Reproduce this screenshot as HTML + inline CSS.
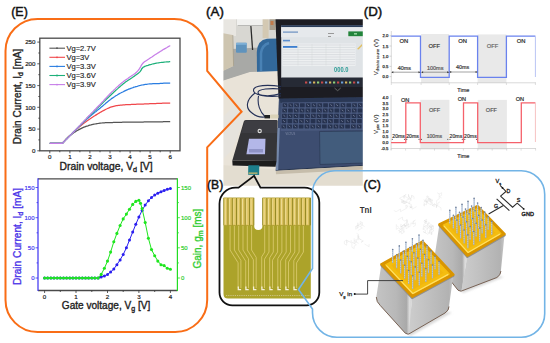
<!DOCTYPE html><html><head><meta charset="utf-8"><style>html,body{margin:0;padding:0;background:#fff;overflow:hidden}svg{display:block}</style></head><body><svg width="550" height="343" viewBox="0 0 550 343" font-family="Liberation Sans, sans-serif">
<rect width="550" height="343" fill="#fff"/>
<defs><filter id="bl" x="-5%" y="-5%" width="110%" height="110%"><feGaussianBlur stdDeviation="0.6"/></filter><filter id="bl2"><feGaussianBlur stdDeviation="1.2"/></filter><linearGradient id="gold" x1="0" y1="0" x2="1" y2="1"><stop offset="0" stop-color="#e0a81a"/><stop offset="0.5" stop-color="#f2c12e"/><stop offset="1" stop-color="#c98d0c"/></linearGradient><linearGradient id="lface" x1="0" y1="0" x2="1" y2="0"><stop offset="0" stop-color="#c9c9c9"/><stop offset="0.7" stop-color="#b5b5b5"/><stop offset="1" stop-color="#d8d8d8"/></linearGradient><linearGradient id="rface" x1="0" y1="0" x2="1" y2="0"><stop offset="0" stop-color="#dcdcdc"/><stop offset="0.3" stop-color="#bdbdbd"/><stop offset="1" stop-color="#a9a9a9"/></linearGradient></defs>
<polyline points="49.8,143.4 62.2,143.4 62.9,142.7 63.8,141.7 64.9,140.5 66.0,139.3 67.3,138.0 68.6,136.7 69.9,135.6 70.8,134.9 71.7,134.2 72.7,133.4 73.7,132.8 74.7,132.1 75.8,131.4 76.8,130.8 77.9,130.2 78.9,129.6 79.9,129.1 80.9,128.6 81.9,128.1 82.9,127.6 83.9,127.2 84.9,126.8 85.9,126.4 86.9,126.1 87.9,125.8 88.9,125.4 89.9,125.1 90.9,124.9 91.9,124.6 93.0,124.4 94.0,124.2 95.0,124.0 96.0,123.8 97.0,123.6 98.0,123.5 99.0,123.3 100.0,123.2 100.9,123.1 101.8,123.0 102.7,122.9 103.5,122.8 104.4,122.8 105.3,122.7 106.3,122.7 107.4,122.6 108.6,122.6 110.0,122.5 110.8,122.5 111.6,122.5 112.5,122.5 113.4,122.4 114.3,122.4 115.3,122.4 116.3,122.4 117.3,122.3 118.4,122.3 119.4,122.3 120.5,122.3 121.6,122.3 122.7,122.2 123.7,122.2 124.8,122.2 125.9,122.2 127.0,122.2 128.0,122.1 129.1,122.1 130.1,122.1 131.1,122.1 132.1,122.1 133.1,122.1 134.1,122.0 135.1,122.0 136.1,122.0 137.1,122.0 138.1,122.0 139.1,122.0 140.1,122.0 141.1,122.0 142.1,122.0 143.1,122.0 144.1,121.9 145.1,121.9 146.1,121.9 147.1,121.9 148.1,121.9 149.1,121.9 150.1,121.9 151.2,121.9 152.2,121.9 153.4,121.9 154.5,121.8 155.6,121.8 156.8,121.8 158.0,121.8 159.1,121.8 160.3,121.8 161.4,121.8 162.6,121.8 163.6,121.7 164.7,121.7 165.7,121.7 166.6,121.7 167.5,121.7 168.3,121.7 169.0,121.7 169.7,121.7 170.2,121.7" fill="none" stroke="#555" stroke-width="1.25"/>
<polyline points="49.8,143.4 62.2,143.4 62.9,142.8 63.6,142.0 64.6,141.0 65.6,139.9 66.7,138.8 67.9,137.5 69.1,136.3 70.4,135.1 71.6,133.9 72.8,132.7 73.9,131.7 74.9,130.8 75.8,129.9 76.8,129.0 77.8,128.2 78.8,127.3 79.8,126.5 80.7,125.7 81.7,124.9 82.8,124.1 83.8,123.3 84.9,122.5 85.9,121.7 86.9,120.9 88.0,120.2 89.1,119.4 90.2,118.7 91.3,117.9 92.4,117.2 93.5,116.5 94.7,115.8 95.8,115.1 96.9,114.4 97.9,113.7 99.0,113.1 100.0,112.5 101.1,111.9 102.2,111.2 103.3,110.6 104.4,110.1 105.4,109.5 106.5,109.0 107.5,108.5 108.5,108.1 109.5,107.6 110.6,107.2 111.6,106.9 112.6,106.6 113.6,106.3 114.5,106.1 115.4,105.9 116.3,105.7 117.2,105.6 118.2,105.4 119.2,105.3 120.4,105.2 121.8,105.1 123.3,104.9 124.0,104.9 124.9,104.8 125.7,104.7 126.6,104.7 127.5,104.6 128.5,104.6 129.5,104.5 130.5,104.5 131.5,104.4 132.5,104.4 133.6,104.3 134.7,104.3 135.8,104.3 136.9,104.2 138.0,104.2 139.0,104.1 140.1,104.1 141.2,104.0 142.3,104.0 143.4,104.0 144.5,103.9 145.5,103.9 146.5,103.8 147.6,103.8 148.7,103.8 149.8,103.7 150.9,103.7 152.1,103.6 153.3,103.6 154.5,103.5 155.7,103.5 156.9,103.4 158.1,103.4 159.3,103.4 160.4,103.3 161.5,103.3 162.7,103.2 163.7,103.2 164.7,103.2 165.7,103.1 166.6,103.1 167.5,103.1 168.3,103.0 169.0,103.0 169.7,103.0 170.2,103.0" fill="none" stroke="#f0474b" stroke-width="1.25"/>
<polyline points="49.8,143.4 62.2,143.4 62.9,142.8 63.6,142.0 64.5,141.1 65.5,140.1 66.6,139.0 67.8,137.8 69.0,136.6 70.2,135.3 71.5,134.1 72.7,132.8 73.9,131.7 74.9,130.7 75.9,129.7 77.0,128.6 78.1,127.5 79.2,126.5 80.3,125.4 81.4,124.3 82.6,123.2 83.7,122.1 84.8,121.1 85.9,120.1 86.9,119.1 87.9,118.2 89.0,117.2 90.1,116.3 91.1,115.4 92.1,114.6 93.1,113.8 94.1,112.9 95.1,112.1 96.1,111.4 97.0,110.6 98.0,109.8 99.0,109.0 100.0,108.2 101.0,107.3 102.1,106.4 103.2,105.5 104.2,104.6 105.3,103.7 106.3,102.8 107.4,101.9 108.5,101.0 109.5,100.2 110.6,99.4 111.6,98.6 112.7,97.9 113.7,97.2 114.8,96.5 115.8,95.8 116.9,95.2 118.0,94.5 119.0,93.9 120.1,93.3 121.1,92.8 122.2,92.2 123.3,91.7 124.3,91.1 125.4,90.6 126.5,90.1 127.6,89.7 128.6,89.2 129.7,88.8 130.8,88.4 131.9,88.0 133.0,87.6 134.0,87.2 135.1,86.9 136.1,86.6 137.2,86.3 138.2,86.0 139.2,85.7 140.2,85.5 141.2,85.2 142.2,85.0 143.3,84.8 144.3,84.6 145.4,84.4 146.5,84.3 147.5,84.2 148.6,84.0 149.6,83.9 150.7,83.9 151.8,83.8 152.9,83.7 154.0,83.7 155.1,83.6 156.2,83.6 157.2,83.5 158.3,83.5 159.2,83.5 160.2,83.4 161.4,83.3 162.6,83.3 163.8,83.2 164.9,83.2 166.1,83.1 167.1,83.1 168.1,83.1 168.9,83.0 169.6,83.0 170.2,83.0" fill="none" stroke="#2a7de1" stroke-width="1.25"/>
<polyline points="49.8,143.4 62.2,143.4 62.9,142.8 63.6,142.0 64.5,141.1 65.5,140.1 66.6,139.0 67.8,137.8 69.0,136.6 70.2,135.4 71.5,134.1 72.7,132.9 73.9,131.7 74.9,130.6 75.9,129.6 77.0,128.5 78.1,127.4 79.2,126.2 80.3,125.1 81.4,123.9 82.6,122.8 83.7,121.6 84.8,120.5 85.9,119.4 86.9,118.3 87.9,117.3 89.0,116.2 90.1,115.2 91.1,114.2 92.1,113.2 93.1,112.2 94.1,111.3 95.1,110.3 96.1,109.4 97.0,108.4 98.0,107.5 99.0,106.5 100.0,105.6 101.0,104.5 102.1,103.5 103.2,102.4 104.2,101.4 105.3,100.4 106.3,99.3 107.4,98.3 108.5,97.3 109.5,96.3 110.6,95.3 111.6,94.3 112.7,93.3 113.7,92.3 114.8,91.3 115.8,90.3 116.9,89.4 118.0,88.4 119.0,87.4 120.1,86.5 121.1,85.6 122.2,84.7 123.3,83.8 124.4,83.0 125.5,82.1 126.7,81.3 127.8,80.5 129.0,79.7 130.2,78.9 131.3,78.2 132.4,77.5 133.4,76.8 134.3,76.2 135.1,75.6 136.6,74.5 137.7,73.7 138.6,73.1 139.3,72.4 140.1,71.7 141.1,70.2 141.8,68.7 143.1,67.3 143.9,66.9 144.8,66.4 145.8,66.0 146.9,65.6 148.0,65.3 149.1,64.9 150.2,64.6 151.4,64.3 152.3,64.0 153.3,63.8 154.3,63.6 155.4,63.4 156.4,63.2 157.4,63.0 158.5,62.8 159.5,62.7 160.6,62.5 161.7,62.4 162.9,62.3 164.1,62.1 165.4,62.0 166.6,61.9 167.7,61.9 168.7,61.8 169.6,61.7 170.2,61.7" fill="none" stroke="#1db07a" stroke-width="1.25"/>
<polyline points="49.8,143.4 62.2,143.4 62.9,142.8 63.6,142.0 64.5,141.1 65.5,140.1 66.6,139.0 67.8,137.9 69.0,136.7 70.2,135.4 71.5,134.1 72.7,132.9 73.9,131.7 74.9,130.6 75.9,129.5 77.0,128.4 78.1,127.3 79.2,126.1 80.3,124.9 81.4,123.7 82.6,122.5 83.7,121.4 84.8,120.2 85.9,119.1 86.9,118.0 87.9,116.9 89.0,115.8 90.1,114.7 91.1,113.6 92.1,112.6 93.1,111.6 94.1,110.5 95.1,109.5 96.1,108.5 97.0,107.5 98.0,106.5 99.0,105.5 100.0,104.5 101.0,103.4 102.1,102.2 103.2,101.1 104.2,99.9 105.3,98.8 106.3,97.6 107.4,96.5 108.5,95.3 109.5,94.2 110.6,93.2 111.6,92.1 112.7,91.1 113.7,90.1 114.8,89.1 115.8,88.1 116.9,87.1 118.0,86.2 119.0,85.2 120.1,84.3 121.1,83.4 122.2,82.5 123.3,81.7 124.4,80.8 125.5,80.0 126.7,79.2 127.9,78.4 129.0,77.6 130.2,76.8 131.3,76.1 132.4,75.3 133.4,74.7 134.3,74.0 135.1,73.4 136.7,72.0 137.8,70.9 138.6,69.8 139.5,68.6 140.6,66.8 141.6,64.9 143.1,63.0 143.9,62.3 144.8,61.6 145.8,60.9 146.9,60.2 148.0,59.5 149.1,58.8 150.2,58.0 151.4,57.3 152.3,56.7 153.3,56.0 154.3,55.3 155.4,54.6 156.4,53.9 157.4,53.2 158.5,52.6 159.5,51.9 160.6,51.2 161.7,50.6 162.9,49.8 164.1,49.1 165.4,48.4 166.6,47.7 167.7,47.0 168.7,46.4 169.6,46.0 170.2,45.6" fill="none" stroke="#c77ee8" stroke-width="1.25"/>
<rect x="39.8" y="38.2" width="140.2" height="112.6" fill="none" stroke="#4a4a4a" stroke-width="1.3"/>
<line x1="37.3" y1="150.8" x2="39.8" y2="150.8" stroke="#333" stroke-width="0.8"/>
<text x="35.5" y="153.0" font-size="6.2" text-anchor="end" fill="#222" stroke="#222" stroke-width="0.2">0</text>
<line x1="38.3" y1="139.9" x2="39.8" y2="139.9" stroke="#333" stroke-width="0.8"/>
<line x1="37.3" y1="129.1" x2="39.8" y2="129.1" stroke="#333" stroke-width="0.8"/>
<text x="35.5" y="131.3" font-size="6.2" text-anchor="end" fill="#222" stroke="#222" stroke-width="0.2">50</text>
<line x1="38.3" y1="118.2" x2="39.8" y2="118.2" stroke="#333" stroke-width="0.8"/>
<line x1="37.3" y1="107.3" x2="39.8" y2="107.3" stroke="#333" stroke-width="0.8"/>
<text x="35.5" y="109.5" font-size="6.2" text-anchor="end" fill="#222" stroke="#222" stroke-width="0.2">100</text>
<line x1="38.3" y1="96.5" x2="39.8" y2="96.5" stroke="#333" stroke-width="0.8"/>
<line x1="37.3" y1="85.6" x2="39.8" y2="85.6" stroke="#333" stroke-width="0.8"/>
<text x="35.5" y="87.8" font-size="6.2" text-anchor="end" fill="#222" stroke="#222" stroke-width="0.2">150</text>
<line x1="38.3" y1="74.7" x2="39.8" y2="74.7" stroke="#333" stroke-width="0.8"/>
<line x1="37.3" y1="63.8" x2="39.8" y2="63.8" stroke="#333" stroke-width="0.8"/>
<text x="35.5" y="66.0" font-size="6.2" text-anchor="end" fill="#222" stroke="#222" stroke-width="0.2">200</text>
<line x1="38.3" y1="53.0" x2="39.8" y2="53.0" stroke="#333" stroke-width="0.8"/>
<line x1="37.3" y1="42.1" x2="39.8" y2="42.1" stroke="#333" stroke-width="0.8"/>
<text x="35.5" y="44.3" font-size="6.2" text-anchor="end" fill="#222" stroke="#222" stroke-width="0.2">250</text>
<line x1="49.8" y1="150.8" x2="49.8" y2="153.3" stroke="#333" stroke-width="0.8"/>
<text x="49.8" y="159" font-size="6.2" text-anchor="middle" fill="#222" stroke="#222" stroke-width="0.2">0</text>
<line x1="59.8" y1="150.8" x2="59.8" y2="152.3" stroke="#333" stroke-width="0.8"/>
<line x1="69.9" y1="150.8" x2="69.9" y2="153.3" stroke="#333" stroke-width="0.8"/>
<text x="69.9" y="159" font-size="6.2" text-anchor="middle" fill="#222" stroke="#222" stroke-width="0.2">1</text>
<line x1="79.9" y1="150.8" x2="79.9" y2="152.3" stroke="#333" stroke-width="0.8"/>
<line x1="89.9" y1="150.8" x2="89.9" y2="153.3" stroke="#333" stroke-width="0.8"/>
<text x="89.9" y="159" font-size="6.2" text-anchor="middle" fill="#222" stroke="#222" stroke-width="0.2">2</text>
<line x1="100.0" y1="150.8" x2="100.0" y2="152.3" stroke="#333" stroke-width="0.8"/>
<line x1="110.0" y1="150.8" x2="110.0" y2="153.3" stroke="#333" stroke-width="0.8"/>
<text x="110.0" y="159" font-size="6.2" text-anchor="middle" fill="#222" stroke="#222" stroke-width="0.2">3</text>
<line x1="120.0" y1="150.8" x2="120.0" y2="152.3" stroke="#333" stroke-width="0.8"/>
<line x1="130.1" y1="150.8" x2="130.1" y2="153.3" stroke="#333" stroke-width="0.8"/>
<text x="130.1" y="159" font-size="6.2" text-anchor="middle" fill="#222" stroke="#222" stroke-width="0.2">4</text>
<line x1="140.1" y1="150.8" x2="140.1" y2="152.3" stroke="#333" stroke-width="0.8"/>
<line x1="150.1" y1="150.8" x2="150.1" y2="153.3" stroke="#333" stroke-width="0.8"/>
<text x="150.1" y="159" font-size="6.2" text-anchor="middle" fill="#222" stroke="#222" stroke-width="0.2">5</text>
<line x1="160.2" y1="150.8" x2="160.2" y2="152.3" stroke="#333" stroke-width="0.8"/>
<line x1="170.2" y1="150.8" x2="170.2" y2="153.3" stroke="#333" stroke-width="0.8"/>
<text x="170.2" y="159" font-size="6.2" text-anchor="middle" fill="#222" stroke="#222" stroke-width="0.2">6</text>
<line x1="49.4" y1="48.2" x2="65" y2="48.2" stroke="#555" stroke-width="1.1"/>
<circle cx="57" cy="48.2" r="0.9" fill="#555"/>
<text x="66.4" y="50.9" font-size="7.6" fill="#222" stroke="#222" stroke-width="0.15">Vg=2.7V</text>
<line x1="49.4" y1="57.3" x2="65" y2="57.3" stroke="#f0474b" stroke-width="1.1"/>
<circle cx="57" cy="57.3" r="0.9" fill="#f0474b"/>
<text x="66.4" y="60.0" font-size="7.6" fill="#222" stroke="#222" stroke-width="0.15">Vg=3V</text>
<line x1="49.4" y1="66.4" x2="65" y2="66.4" stroke="#2a7de1" stroke-width="1.1"/>
<circle cx="57" cy="66.4" r="0.9" fill="#2a7de1"/>
<text x="66.4" y="69.1" font-size="7.6" fill="#222" stroke="#222" stroke-width="0.15">Vg=3.3V</text>
<line x1="49.4" y1="75.5" x2="65" y2="75.5" stroke="#1db07a" stroke-width="1.1"/>
<circle cx="57" cy="75.5" r="0.9" fill="#1db07a"/>
<text x="66.4" y="78.2" font-size="7.6" fill="#222" stroke="#222" stroke-width="0.15">Vg=3.6V</text>
<line x1="49.4" y1="84.6" x2="65" y2="84.6" stroke="#c77ee8" stroke-width="1.1"/>
<circle cx="57" cy="84.6" r="0.9" fill="#c77ee8"/>
<text x="66.4" y="87.3" font-size="7.6" fill="#222" stroke="#222" stroke-width="0.15">Vg=3.9V</text>
<text x="59.6" y="169.6" font-size="10.3" fill="#222" stroke="#222" stroke-width="0.35" textLength="93" lengthAdjust="spacingAndGlyphs">Drain voltage, V<tspan font-size="7.2" dy="2.2">d</tspan><tspan dy="-2.2"> [V]</tspan></text>
<text transform="translate(20.7,144.2) rotate(-90)" font-size="10.3" fill="#222" stroke="#222" stroke-width="0.35" textLength="95.5" lengthAdjust="spacingAndGlyphs">Drain Current, I<tspan font-size="7.2" dy="2.2">d</tspan><tspan dy="-2.2"> [mA]</tspan></text>
<polyline points="44.6,278.0 47.7,278.0 50.9,278.0 54.0,278.0 57.2,278.0 60.3,278.0 63.5,278.0 66.6,278.0 69.8,278.0 72.9,278.0 76.0,278.0 79.2,278.0 82.3,278.0 85.5,278.0 88.6,278.0 91.8,278.0 94.9,278.0 98.1,278.0 101.2,277.1 104.4,275.9 107.5,274.4 110.6,272.0 113.8,269.0 116.9,264.7 120.1,259.9 123.2,254.5 126.4,247.8 129.5,240.0 132.7,232.1 135.8,224.3 138.9,217.1 142.1,210.4 145.2,205.0 148.4,200.8 151.5,197.5 154.7,195.0 157.8,193.2 161.0,191.7 164.1,190.5 167.3,189.3 170.4,188.4" fill="none" stroke="#2a1ef0" stroke-width="1"/>
<circle cx="44.6" cy="278.0" r="1.5" fill="#2a1ef0"/>
<circle cx="47.7" cy="278.0" r="1.5" fill="#2a1ef0"/>
<circle cx="50.9" cy="278.0" r="1.5" fill="#2a1ef0"/>
<circle cx="54.0" cy="278.0" r="1.5" fill="#2a1ef0"/>
<circle cx="57.2" cy="278.0" r="1.5" fill="#2a1ef0"/>
<circle cx="60.3" cy="278.0" r="1.5" fill="#2a1ef0"/>
<circle cx="63.5" cy="278.0" r="1.5" fill="#2a1ef0"/>
<circle cx="66.6" cy="278.0" r="1.5" fill="#2a1ef0"/>
<circle cx="69.8" cy="278.0" r="1.5" fill="#2a1ef0"/>
<circle cx="72.9" cy="278.0" r="1.5" fill="#2a1ef0"/>
<circle cx="76.0" cy="278.0" r="1.5" fill="#2a1ef0"/>
<circle cx="79.2" cy="278.0" r="1.5" fill="#2a1ef0"/>
<circle cx="82.3" cy="278.0" r="1.5" fill="#2a1ef0"/>
<circle cx="85.5" cy="278.0" r="1.5" fill="#2a1ef0"/>
<circle cx="88.6" cy="278.0" r="1.5" fill="#2a1ef0"/>
<circle cx="91.8" cy="278.0" r="1.5" fill="#2a1ef0"/>
<circle cx="94.9" cy="278.0" r="1.5" fill="#2a1ef0"/>
<circle cx="98.1" cy="278.0" r="1.5" fill="#2a1ef0"/>
<circle cx="101.2" cy="277.1" r="1.5" fill="#2a1ef0"/>
<circle cx="104.4" cy="275.9" r="1.5" fill="#2a1ef0"/>
<circle cx="107.5" cy="274.4" r="1.5" fill="#2a1ef0"/>
<circle cx="110.6" cy="272.0" r="1.5" fill="#2a1ef0"/>
<circle cx="113.8" cy="269.0" r="1.5" fill="#2a1ef0"/>
<circle cx="116.9" cy="264.7" r="1.5" fill="#2a1ef0"/>
<circle cx="120.1" cy="259.9" r="1.5" fill="#2a1ef0"/>
<circle cx="123.2" cy="254.5" r="1.5" fill="#2a1ef0"/>
<circle cx="126.4" cy="247.8" r="1.5" fill="#2a1ef0"/>
<circle cx="129.5" cy="240.0" r="1.5" fill="#2a1ef0"/>
<circle cx="132.7" cy="232.1" r="1.5" fill="#2a1ef0"/>
<circle cx="135.8" cy="224.3" r="1.5" fill="#2a1ef0"/>
<circle cx="138.9" cy="217.1" r="1.5" fill="#2a1ef0"/>
<circle cx="142.1" cy="210.4" r="1.5" fill="#2a1ef0"/>
<circle cx="145.2" cy="205.0" r="1.5" fill="#2a1ef0"/>
<circle cx="148.4" cy="200.8" r="1.5" fill="#2a1ef0"/>
<circle cx="151.5" cy="197.5" r="1.5" fill="#2a1ef0"/>
<circle cx="154.7" cy="195.0" r="1.5" fill="#2a1ef0"/>
<circle cx="157.8" cy="193.2" r="1.5" fill="#2a1ef0"/>
<circle cx="161.0" cy="191.7" r="1.5" fill="#2a1ef0"/>
<circle cx="164.1" cy="190.5" r="1.5" fill="#2a1ef0"/>
<circle cx="167.3" cy="189.3" r="1.5" fill="#2a1ef0"/>
<circle cx="170.4" cy="188.4" r="1.5" fill="#2a1ef0"/>
<polyline points="44.6,278.0 47.7,278.0 50.9,278.0 54.0,278.0 57.2,278.0 60.3,278.0 63.5,278.0 66.6,278.0 69.8,278.0 72.9,278.0 76.0,278.0 79.2,278.0 82.3,278.0 85.5,278.0 88.6,278.0 91.8,278.0 94.9,278.0 98.1,278.0 101.2,274.4 104.4,268.3 107.5,261.1 110.6,252.1 113.8,241.8 116.9,233.4 120.1,225.5 123.2,218.9 126.4,214.1 129.5,209.2 132.7,204.4 135.8,201.4 138.9,200.2 140.5,203.2 142.1,208.6 145.2,222.5 148.4,238.2 151.5,249.6 154.7,255.7 157.8,261.1 161.0,264.7 164.1,265.6 167.3,268.3 170.4,269.3" fill="none" stroke="#1ee61e" stroke-width="1"/>
<circle cx="44.6" cy="278.0" r="1.55" fill="#1ee61e"/>
<circle cx="47.7" cy="278.0" r="1.55" fill="#1ee61e"/>
<circle cx="50.9" cy="278.0" r="1.55" fill="#1ee61e"/>
<circle cx="54.0" cy="278.0" r="1.55" fill="#1ee61e"/>
<circle cx="57.2" cy="278.0" r="1.55" fill="#1ee61e"/>
<circle cx="60.3" cy="278.0" r="1.55" fill="#1ee61e"/>
<circle cx="63.5" cy="278.0" r="1.55" fill="#1ee61e"/>
<circle cx="66.6" cy="278.0" r="1.55" fill="#1ee61e"/>
<circle cx="69.8" cy="278.0" r="1.55" fill="#1ee61e"/>
<circle cx="72.9" cy="278.0" r="1.55" fill="#1ee61e"/>
<circle cx="76.0" cy="278.0" r="1.55" fill="#1ee61e"/>
<circle cx="79.2" cy="278.0" r="1.55" fill="#1ee61e"/>
<circle cx="82.3" cy="278.0" r="1.55" fill="#1ee61e"/>
<circle cx="85.5" cy="278.0" r="1.55" fill="#1ee61e"/>
<circle cx="88.6" cy="278.0" r="1.55" fill="#1ee61e"/>
<circle cx="91.8" cy="278.0" r="1.55" fill="#1ee61e"/>
<circle cx="94.9" cy="278.0" r="1.55" fill="#1ee61e"/>
<circle cx="98.1" cy="278.0" r="1.55" fill="#1ee61e"/>
<circle cx="101.2" cy="274.4" r="1.55" fill="#1ee61e"/>
<circle cx="104.4" cy="268.3" r="1.55" fill="#1ee61e"/>
<circle cx="107.5" cy="261.1" r="1.55" fill="#1ee61e"/>
<circle cx="110.6" cy="252.1" r="1.55" fill="#1ee61e"/>
<circle cx="113.8" cy="241.8" r="1.55" fill="#1ee61e"/>
<circle cx="116.9" cy="233.4" r="1.55" fill="#1ee61e"/>
<circle cx="120.1" cy="225.5" r="1.55" fill="#1ee61e"/>
<circle cx="123.2" cy="218.9" r="1.55" fill="#1ee61e"/>
<circle cx="126.4" cy="214.1" r="1.55" fill="#1ee61e"/>
<circle cx="129.5" cy="209.2" r="1.55" fill="#1ee61e"/>
<circle cx="132.7" cy="204.4" r="1.55" fill="#1ee61e"/>
<circle cx="135.8" cy="201.4" r="1.55" fill="#1ee61e"/>
<circle cx="138.9" cy="200.2" r="1.55" fill="#1ee61e"/>
<circle cx="140.5" cy="203.2" r="1.55" fill="#1ee61e"/>
<circle cx="142.1" cy="208.6" r="1.55" fill="#1ee61e"/>
<circle cx="145.2" cy="222.5" r="1.55" fill="#1ee61e"/>
<circle cx="148.4" cy="238.2" r="1.55" fill="#1ee61e"/>
<circle cx="151.5" cy="249.6" r="1.55" fill="#1ee61e"/>
<circle cx="154.7" cy="255.7" r="1.55" fill="#1ee61e"/>
<circle cx="157.8" cy="261.1" r="1.55" fill="#1ee61e"/>
<circle cx="161.0" cy="264.7" r="1.55" fill="#1ee61e"/>
<circle cx="164.1" cy="265.6" r="1.55" fill="#1ee61e"/>
<circle cx="167.3" cy="268.3" r="1.55" fill="#1ee61e"/>
<circle cx="170.4" cy="269.3" r="1.55" fill="#1ee61e"/>
<line x1="38" y1="178.8" x2="177.4" y2="178.8" stroke="#4a4a4a" stroke-width="1.3"/>
<line x1="38" y1="290.5" x2="177.4" y2="290.5" stroke="#4a4a4a" stroke-width="1.3"/>
<line x1="38" y1="178.2" x2="38" y2="291.1" stroke="#3a2ff0" stroke-width="1.2"/>
<line x1="177.4" y1="178.2" x2="177.4" y2="291.1" stroke="#22dd22" stroke-width="1.2"/>
<line x1="35.5" y1="278.0" x2="38" y2="278.0" stroke="#3a2ff0" stroke-width="0.8"/>
<line x1="177.4" y1="278.0" x2="179.9" y2="278.0" stroke="#22dd22" stroke-width="0.8"/>
<text x="34.5" y="280.1" font-size="6" text-anchor="end" fill="#3a2ff0" stroke="#3a2ff0" stroke-width="0.15">0</text>
<text x="181" y="280.1" font-size="6" fill="#22cc22" stroke="#22cc22" stroke-width="0.15">0</text>
<line x1="36.5" y1="262.9" x2="38" y2="262.9" stroke="#3a2ff0" stroke-width="0.8"/>
<line x1="177.4" y1="262.9" x2="178.9" y2="262.9" stroke="#22dd22" stroke-width="0.8"/>
<line x1="35.5" y1="247.8" x2="38" y2="247.8" stroke="#3a2ff0" stroke-width="0.8"/>
<line x1="177.4" y1="247.8" x2="179.9" y2="247.8" stroke="#22dd22" stroke-width="0.8"/>
<text x="34.5" y="249.9" font-size="6" text-anchor="end" fill="#3a2ff0" stroke="#3a2ff0" stroke-width="0.15">50</text>
<text x="181" y="249.9" font-size="6" fill="#22cc22" stroke="#22cc22" stroke-width="0.15">50</text>
<line x1="36.5" y1="232.8" x2="38" y2="232.8" stroke="#3a2ff0" stroke-width="0.8"/>
<line x1="177.4" y1="232.8" x2="178.9" y2="232.8" stroke="#22dd22" stroke-width="0.8"/>
<line x1="35.5" y1="217.7" x2="38" y2="217.7" stroke="#3a2ff0" stroke-width="0.8"/>
<line x1="177.4" y1="217.7" x2="179.9" y2="217.7" stroke="#22dd22" stroke-width="0.8"/>
<text x="34.5" y="219.8" font-size="6" text-anchor="end" fill="#3a2ff0" stroke="#3a2ff0" stroke-width="0.15">100</text>
<text x="181" y="219.8" font-size="6" fill="#22cc22" stroke="#22cc22" stroke-width="0.15">100</text>
<line x1="36.5" y1="202.6" x2="38" y2="202.6" stroke="#3a2ff0" stroke-width="0.8"/>
<line x1="177.4" y1="202.6" x2="178.9" y2="202.6" stroke="#22dd22" stroke-width="0.8"/>
<line x1="35.5" y1="187.5" x2="38" y2="187.5" stroke="#3a2ff0" stroke-width="0.8"/>
<line x1="177.4" y1="187.5" x2="179.9" y2="187.5" stroke="#22dd22" stroke-width="0.8"/>
<text x="34.5" y="189.6" font-size="6" text-anchor="end" fill="#3a2ff0" stroke="#3a2ff0" stroke-width="0.15">150</text>
<text x="181" y="189.6" font-size="6" fill="#22cc22" stroke="#22cc22" stroke-width="0.15">150</text>
<line x1="44.6" y1="290.5" x2="44.6" y2="293.0" stroke="#333" stroke-width="0.8"/>
<text x="44.6" y="299" font-size="6.2" text-anchor="middle" fill="#222" stroke="#222" stroke-width="0.2">0</text>
<line x1="60.3" y1="290.5" x2="60.3" y2="292.0" stroke="#333" stroke-width="0.8"/>
<line x1="76.0" y1="290.5" x2="76.0" y2="293.0" stroke="#333" stroke-width="0.8"/>
<text x="76.0" y="299" font-size="6.2" text-anchor="middle" fill="#222" stroke="#222" stroke-width="0.2">1</text>
<line x1="91.8" y1="290.5" x2="91.8" y2="292.0" stroke="#333" stroke-width="0.8"/>
<line x1="107.5" y1="290.5" x2="107.5" y2="293.0" stroke="#333" stroke-width="0.8"/>
<text x="107.5" y="299" font-size="6.2" text-anchor="middle" fill="#222" stroke="#222" stroke-width="0.2">2</text>
<line x1="123.2" y1="290.5" x2="123.2" y2="292.0" stroke="#333" stroke-width="0.8"/>
<line x1="138.9" y1="290.5" x2="138.9" y2="293.0" stroke="#333" stroke-width="0.8"/>
<text x="138.9" y="299" font-size="6.2" text-anchor="middle" fill="#222" stroke="#222" stroke-width="0.2">3</text>
<line x1="154.7" y1="290.5" x2="154.7" y2="292.0" stroke="#333" stroke-width="0.8"/>
<line x1="170.4" y1="290.5" x2="170.4" y2="293.0" stroke="#333" stroke-width="0.8"/>
<text x="170.4" y="299" font-size="6.2" text-anchor="middle" fill="#222" stroke="#222" stroke-width="0.2">4</text>
<text x="61.8" y="309.2" font-size="10.3" fill="#222" stroke="#222" stroke-width="0.35" textLength="88.5" lengthAdjust="spacingAndGlyphs">Gate voltage, V<tspan font-size="7.2" dy="2.2">g</tspan><tspan dy="-2.2"> [V]</tspan></text>
<text transform="translate(20.7,285) rotate(-90)" font-size="10.3" fill="#4b33e8" stroke="#4b33e8" stroke-width="0.35" textLength="97" lengthAdjust="spacingAndGlyphs">Drain Current, I<tspan font-size="7.2" dy="2.2">d</tspan><tspan dy="-2.2"> [mA]</tspan></text>
<text transform="translate(200.6,268.6) rotate(-90)" font-size="10.3" fill="#33cc33" stroke="#33cc33" stroke-width="0.35" textLength="60" lengthAdjust="spacingAndGlyphs">Gain, g<tspan font-size="7.2" dy="2.2">m</tspan><tspan dy="-2.2"> [ms]</tspan></text>
<clipPath id="phc"><rect x="223.4" y="19.2" width="139.4" height="166.6"/></clipPath>
<g clip-path="url(#phc)"><g filter="url(#bl)">
<rect x="222" y="18" width="143" height="170" fill="#ebe8e2"/>
<rect x="222" y="18" width="56" height="34" fill="#d8d7d2"/>
<rect x="222" y="18" width="14" height="18" fill="#e8e6e1"/>
<rect x="237" y="18" width="27" height="7" fill="#f1f1ef"/>
<rect x="262.6" y="18" width="6" height="20" fill="#d3c8b2"/>
<rect x="269.5" y="18" width="6" height="12" fill="#a79d8c"/>
<rect x="270.5" y="21" width="3" height="4" fill="#c07a4c"/>
<polygon points="232,49 278,46.5 278,72.5 250,72.5 222,81.5 222,71 233,66" fill="#a8a9a6"/>
<polygon points="222,33 232.5,35 233.5,66 222,71.5" fill="#cec5b0"/>
<line x1="232.8" y1="35" x2="233.6" y2="66" stroke="#a89f8c" stroke-width="0.8"/>
<line x1="250.8" y1="25" x2="252.6" y2="50" stroke="#2b2b2b" stroke-width="1.3"/>
<line x1="238" y1="25.5" x2="263" y2="25.5" stroke="#b9b9b6" stroke-width="1"/>
<rect x="236" y="42.8" width="10.8" height="9.9" rx="1" fill="#5f93bd"/>
<rect x="236" y="42.8" width="10.8" height="2" fill="#7fb0d6"/>
<path d="M257,72.5 L256.8,52 Q257.5,40 267,38.8 L279,38.5 L279,72.5 Z" fill="#33679a"/>
<path d="M261,71 L261,53 Q262,45 269,43" stroke="#4a82b5" stroke-width="2.5" fill="none"/>
<polygon points="222,81 250,72 280,71 365,71 365,188 222,188" fill="#e9e3d8"/>
<polygon points="222,165 280,170 365,166 365,188 222,188" fill="#e3ddd0"/>
<polygon points="222,118 236,104 244,120 232,150 222,160" fill="#e6e3dd"/>
<polygon points="279,96.5 365,95.5 365,165.3 275.8,170.3" fill="#3e4d70"/>
<polygon points="279,96.5 365,95.5 365,102 280.5,103" fill="#2c3956"/>
<polygon points="281.8,102.5 365,101.8 365,130 280.8,131" fill="#4a5a7f"/>
<rect x="282.6" y="103.2" width="4.7" height="4.1" rx="0.4" fill="#27324f"/>
<line x1="284.0" y1="104.5" x2="285.8" y2="105.9" stroke="#aab5cc" stroke-width="0.5"/>
<rect x="288.4" y="103.2" width="4.7" height="4.1" rx="0.4" fill="#27324f"/>
<line x1="289.8" y1="104.5" x2="291.6" y2="105.9" stroke="#aab5cc" stroke-width="0.5"/>
<rect x="294.2" y="103.2" width="4.7" height="4.1" rx="0.4" fill="#27324f"/>
<line x1="295.6" y1="104.5" x2="297.4" y2="105.9" stroke="#aab5cc" stroke-width="0.5"/>
<rect x="300.0" y="103.2" width="4.7" height="4.1" rx="0.4" fill="#27324f"/>
<rect x="305.8" y="103.2" width="4.7" height="4.1" rx="0.4" fill="#27324f"/>
<line x1="307.2" y1="104.5" x2="309.0" y2="105.9" stroke="#aab5cc" stroke-width="0.5"/>
<rect x="311.6" y="103.2" width="4.7" height="4.1" rx="0.4" fill="#27324f"/>
<line x1="313.0" y1="104.5" x2="314.8" y2="105.9" stroke="#aab5cc" stroke-width="0.5"/>
<rect x="317.4" y="103.2" width="4.7" height="4.1" rx="0.4" fill="#27324f"/>
<line x1="318.8" y1="104.5" x2="320.6" y2="105.9" stroke="#aab5cc" stroke-width="0.5"/>
<rect x="323.2" y="103.2" width="4.7" height="4.1" rx="0.4" fill="#27324f"/>
<rect x="329.0" y="103.2" width="4.7" height="4.1" rx="0.4" fill="#27324f"/>
<line x1="330.4" y1="104.5" x2="332.2" y2="105.9" stroke="#aab5cc" stroke-width="0.5"/>
<rect x="334.8" y="103.2" width="4.7" height="4.1" rx="0.4" fill="#27324f"/>
<line x1="336.2" y1="104.5" x2="338.0" y2="105.9" stroke="#aab5cc" stroke-width="0.5"/>
<rect x="340.6" y="103.2" width="4.7" height="4.1" rx="0.4" fill="#27324f"/>
<line x1="342.0" y1="104.5" x2="343.8" y2="105.9" stroke="#aab5cc" stroke-width="0.5"/>
<rect x="346.4" y="103.2" width="4.7" height="4.1" rx="0.4" fill="#27324f"/>
<rect x="352.2" y="103.2" width="4.7" height="4.1" rx="0.4" fill="#27324f"/>
<line x1="353.6" y1="104.5" x2="355.4" y2="105.9" stroke="#aab5cc" stroke-width="0.5"/>
<rect x="358.0" y="103.2" width="4.7" height="4.1" rx="0.4" fill="#27324f"/>
<line x1="359.4" y1="104.5" x2="361.2" y2="105.9" stroke="#aab5cc" stroke-width="0.5"/>
<rect x="282.3" y="108.5" width="4.7" height="4.1" rx="0.4" fill="#27324f"/>
<line x1="283.7" y1="109.8" x2="285.5" y2="111.2" stroke="#aab5cc" stroke-width="0.5"/>
<rect x="288.1" y="108.5" width="4.7" height="4.1" rx="0.4" fill="#27324f"/>
<rect x="293.9" y="108.5" width="4.7" height="4.1" rx="0.4" fill="#27324f"/>
<line x1="295.3" y1="109.8" x2="297.1" y2="111.2" stroke="#aab5cc" stroke-width="0.5"/>
<rect x="299.7" y="108.5" width="4.7" height="4.1" rx="0.4" fill="#27324f"/>
<line x1="301.1" y1="109.8" x2="302.9" y2="111.2" stroke="#aab5cc" stroke-width="0.5"/>
<rect x="305.5" y="108.5" width="4.7" height="4.1" rx="0.4" fill="#27324f"/>
<line x1="306.9" y1="109.8" x2="308.7" y2="111.2" stroke="#aab5cc" stroke-width="0.5"/>
<rect x="311.3" y="108.5" width="4.7" height="4.1" rx="0.4" fill="#27324f"/>
<rect x="317.1" y="108.5" width="4.7" height="4.1" rx="0.4" fill="#27324f"/>
<line x1="318.5" y1="109.8" x2="320.3" y2="111.2" stroke="#aab5cc" stroke-width="0.5"/>
<rect x="322.9" y="108.5" width="4.7" height="4.1" rx="0.4" fill="#27324f"/>
<line x1="324.3" y1="109.8" x2="326.1" y2="111.2" stroke="#aab5cc" stroke-width="0.5"/>
<rect x="328.7" y="108.5" width="4.7" height="4.1" rx="0.4" fill="#27324f"/>
<line x1="330.1" y1="109.8" x2="331.9" y2="111.2" stroke="#aab5cc" stroke-width="0.5"/>
<rect x="334.5" y="108.5" width="4.7" height="4.1" rx="0.4" fill="#27324f"/>
<rect x="340.3" y="108.5" width="4.7" height="4.1" rx="0.4" fill="#27324f"/>
<line x1="341.7" y1="109.8" x2="343.5" y2="111.2" stroke="#aab5cc" stroke-width="0.5"/>
<rect x="346.1" y="108.5" width="4.7" height="4.1" rx="0.4" fill="#27324f"/>
<line x1="347.5" y1="109.8" x2="349.3" y2="111.2" stroke="#aab5cc" stroke-width="0.5"/>
<rect x="351.9" y="108.5" width="4.7" height="4.1" rx="0.4" fill="#27324f"/>
<line x1="353.3" y1="109.8" x2="355.1" y2="111.2" stroke="#aab5cc" stroke-width="0.5"/>
<rect x="357.7" y="108.5" width="4.7" height="4.1" rx="0.4" fill="#27324f"/>
<rect x="282.0" y="113.8" width="4.7" height="4.1" rx="0.4" fill="#27324f"/>
<line x1="283.4" y1="115.1" x2="285.2" y2="116.5" stroke="#aab5cc" stroke-width="0.5"/>
<rect x="287.8" y="113.8" width="4.7" height="4.1" rx="0.4" fill="#27324f"/>
<line x1="289.2" y1="115.1" x2="291.0" y2="116.5" stroke="#aab5cc" stroke-width="0.5"/>
<rect x="293.6" y="113.8" width="4.7" height="4.1" rx="0.4" fill="#27324f"/>
<line x1="295.0" y1="115.1" x2="296.8" y2="116.5" stroke="#aab5cc" stroke-width="0.5"/>
<rect x="299.4" y="113.8" width="4.7" height="4.1" rx="0.4" fill="#27324f"/>
<rect x="305.2" y="113.8" width="4.7" height="4.1" rx="0.4" fill="#27324f"/>
<line x1="306.6" y1="115.1" x2="308.4" y2="116.5" stroke="#aab5cc" stroke-width="0.5"/>
<rect x="311.0" y="113.8" width="4.7" height="4.1" rx="0.4" fill="#27324f"/>
<line x1="312.4" y1="115.1" x2="314.2" y2="116.5" stroke="#aab5cc" stroke-width="0.5"/>
<rect x="316.8" y="113.8" width="4.7" height="4.1" rx="0.4" fill="#27324f"/>
<line x1="318.2" y1="115.1" x2="320.0" y2="116.5" stroke="#aab5cc" stroke-width="0.5"/>
<rect x="322.6" y="113.8" width="4.7" height="4.1" rx="0.4" fill="#27324f"/>
<rect x="328.4" y="113.8" width="4.7" height="4.1" rx="0.4" fill="#27324f"/>
<line x1="329.8" y1="115.1" x2="331.6" y2="116.5" stroke="#aab5cc" stroke-width="0.5"/>
<rect x="334.2" y="113.8" width="4.7" height="4.1" rx="0.4" fill="#27324f"/>
<line x1="335.6" y1="115.1" x2="337.4" y2="116.5" stroke="#aab5cc" stroke-width="0.5"/>
<rect x="340.0" y="113.8" width="4.7" height="4.1" rx="0.4" fill="#27324f"/>
<line x1="341.4" y1="115.1" x2="343.2" y2="116.5" stroke="#aab5cc" stroke-width="0.5"/>
<rect x="345.8" y="113.8" width="4.7" height="4.1" rx="0.4" fill="#27324f"/>
<rect x="351.6" y="113.8" width="4.7" height="4.1" rx="0.4" fill="#27324f"/>
<line x1="353.0" y1="115.1" x2="354.8" y2="116.5" stroke="#aab5cc" stroke-width="0.5"/>
<rect x="357.4" y="113.8" width="4.7" height="4.1" rx="0.4" fill="#27324f"/>
<line x1="358.8" y1="115.1" x2="360.6" y2="116.5" stroke="#aab5cc" stroke-width="0.5"/>
<rect x="281.7" y="119.1" width="4.7" height="4.1" rx="0.4" fill="#27324f"/>
<line x1="283.1" y1="120.4" x2="284.9" y2="121.8" stroke="#aab5cc" stroke-width="0.5"/>
<rect x="287.5" y="119.1" width="4.7" height="4.1" rx="0.4" fill="#27324f"/>
<rect x="293.3" y="119.1" width="4.7" height="4.1" rx="0.4" fill="#27324f"/>
<line x1="294.7" y1="120.4" x2="296.5" y2="121.8" stroke="#aab5cc" stroke-width="0.5"/>
<rect x="299.1" y="119.1" width="4.7" height="4.1" rx="0.4" fill="#27324f"/>
<line x1="300.5" y1="120.4" x2="302.3" y2="121.8" stroke="#aab5cc" stroke-width="0.5"/>
<rect x="304.9" y="119.1" width="4.7" height="4.1" rx="0.4" fill="#27324f"/>
<line x1="306.3" y1="120.4" x2="308.1" y2="121.8" stroke="#aab5cc" stroke-width="0.5"/>
<rect x="310.7" y="119.1" width="4.7" height="4.1" rx="0.4" fill="#27324f"/>
<rect x="316.5" y="119.1" width="4.7" height="4.1" rx="0.4" fill="#27324f"/>
<line x1="317.9" y1="120.4" x2="319.7" y2="121.8" stroke="#aab5cc" stroke-width="0.5"/>
<rect x="322.3" y="119.1" width="4.7" height="4.1" rx="0.4" fill="#27324f"/>
<line x1="323.7" y1="120.4" x2="325.5" y2="121.8" stroke="#aab5cc" stroke-width="0.5"/>
<rect x="328.1" y="119.1" width="4.7" height="4.1" rx="0.4" fill="#27324f"/>
<line x1="329.5" y1="120.4" x2="331.3" y2="121.8" stroke="#aab5cc" stroke-width="0.5"/>
<rect x="333.9" y="119.1" width="4.7" height="4.1" rx="0.4" fill="#27324f"/>
<rect x="339.7" y="119.1" width="4.7" height="4.1" rx="0.4" fill="#27324f"/>
<line x1="341.1" y1="120.4" x2="342.9" y2="121.8" stroke="#aab5cc" stroke-width="0.5"/>
<rect x="345.5" y="119.1" width="4.7" height="4.1" rx="0.4" fill="#27324f"/>
<line x1="346.9" y1="120.4" x2="348.7" y2="121.8" stroke="#aab5cc" stroke-width="0.5"/>
<rect x="351.3" y="119.1" width="4.7" height="4.1" rx="0.4" fill="#27324f"/>
<line x1="352.7" y1="120.4" x2="354.5" y2="121.8" stroke="#aab5cc" stroke-width="0.5"/>
<rect x="357.1" y="119.1" width="4.7" height="4.1" rx="0.4" fill="#27324f"/>
<rect x="281.4" y="124.4" width="4.7" height="4.1" rx="0.4" fill="#27324f"/>
<line x1="282.8" y1="125.7" x2="284.6" y2="127.1" stroke="#aab5cc" stroke-width="0.5"/>
<rect x="287.2" y="124.4" width="4.7" height="4.1" rx="0.4" fill="#27324f"/>
<line x1="288.6" y1="125.7" x2="290.4" y2="127.1" stroke="#aab5cc" stroke-width="0.5"/>
<rect x="293.0" y="124.4" width="4.7" height="4.1" rx="0.4" fill="#27324f"/>
<line x1="294.4" y1="125.7" x2="296.2" y2="127.1" stroke="#aab5cc" stroke-width="0.5"/>
<rect x="298.8" y="124.4" width="4.7" height="4.1" rx="0.4" fill="#27324f"/>
<rect x="304.6" y="124.4" width="4.7" height="4.1" rx="0.4" fill="#27324f"/>
<line x1="306.0" y1="125.7" x2="307.8" y2="127.1" stroke="#aab5cc" stroke-width="0.5"/>
<rect x="310.4" y="124.4" width="4.7" height="4.1" rx="0.4" fill="#27324f"/>
<line x1="311.8" y1="125.7" x2="313.6" y2="127.1" stroke="#aab5cc" stroke-width="0.5"/>
<rect x="316.2" y="124.4" width="4.7" height="4.1" rx="0.4" fill="#27324f"/>
<line x1="317.6" y1="125.7" x2="319.4" y2="127.1" stroke="#aab5cc" stroke-width="0.5"/>
<rect x="322.0" y="124.4" width="4.7" height="4.1" rx="0.4" fill="#27324f"/>
<rect x="327.8" y="124.4" width="4.7" height="4.1" rx="0.4" fill="#27324f"/>
<line x1="329.2" y1="125.7" x2="331.0" y2="127.1" stroke="#aab5cc" stroke-width="0.5"/>
<rect x="333.6" y="124.4" width="4.7" height="4.1" rx="0.4" fill="#27324f"/>
<line x1="335.0" y1="125.7" x2="336.8" y2="127.1" stroke="#aab5cc" stroke-width="0.5"/>
<rect x="339.4" y="124.4" width="4.7" height="4.1" rx="0.4" fill="#27324f"/>
<line x1="340.8" y1="125.7" x2="342.6" y2="127.1" stroke="#aab5cc" stroke-width="0.5"/>
<rect x="345.2" y="124.4" width="4.7" height="4.1" rx="0.4" fill="#27324f"/>
<rect x="351.0" y="124.4" width="4.7" height="4.1" rx="0.4" fill="#27324f"/>
<line x1="352.4" y1="125.7" x2="354.2" y2="127.1" stroke="#aab5cc" stroke-width="0.5"/>
<rect x="356.8" y="124.4" width="4.7" height="4.1" rx="0.4" fill="#27324f"/>
<line x1="358.2" y1="125.7" x2="360.0" y2="127.1" stroke="#aab5cc" stroke-width="0.5"/>
<text x="285.6" y="134.5" font-size="2.6" fill="#8390ab">VICTUS</text>
<polygon points="319.5,131.5 365,131 365,163 320,164.5" fill="#425b7b"/>
<polygon points="319.5,131.5 365,131 365,163 320,164.5" fill="none" stroke="#2a3954" stroke-width="0.7"/>
<line x1="275.8" y1="170.3" x2="365" y2="165.3" stroke="#26344f" stroke-width="1.2"/>
<polygon points="275.8,170.8 365,165.8 365,169.5 276,174.3" fill="#c6bdab"/>
<polygon points="277.2,128 279.8,128 278.2,170 275.8,170.2" fill="#7488aa"/>
<polygon points="275.4,18 365,18 365,97 278.5,98.5" fill="#1c1d21"/>
<rect x="281.2" y="25.5" width="84" height="52.5" fill="#dfe3e6"/>
<rect x="281.2" y="25.2" width="84" height="2" fill="#2a3c5a"/>
<rect x="281.2" y="27.2" width="84" height="10" fill="#e6e9ec"/>
<rect x="282.5" y="43.5" width="73" height="22.4" fill="#eef0f1"/>
<line x1="283" y1="45.0" x2="355" y2="45.0" stroke="#c6cbd0" stroke-width="0.5"/>
<line x1="283" y1="47.4" x2="355" y2="47.4" stroke="#c6cbd0" stroke-width="0.5"/>
<line x1="283" y1="49.8" x2="355" y2="49.8" stroke="#c6cbd0" stroke-width="0.5"/>
<line x1="283" y1="52.2" x2="355" y2="52.2" stroke="#c6cbd0" stroke-width="0.5"/>
<line x1="283" y1="54.6" x2="355" y2="54.6" stroke="#c6cbd0" stroke-width="0.5"/>
<line x1="283" y1="57.0" x2="355" y2="57.0" stroke="#c6cbd0" stroke-width="0.5"/>
<line x1="283" y1="59.4" x2="355" y2="59.4" stroke="#c6cbd0" stroke-width="0.5"/>
<line x1="283" y1="61.8" x2="355" y2="61.8" stroke="#c6cbd0" stroke-width="0.5"/>
<line x1="283" y1="64.2" x2="355" y2="64.2" stroke="#c6cbd0" stroke-width="0.5"/>
<line x1="298" y1="44" x2="298" y2="65.5" stroke="#cfd3d7" stroke-width="0.4"/>
<line x1="312" y1="44" x2="312" y2="65.5" stroke="#cfd3d7" stroke-width="0.4"/>
<line x1="326" y1="44" x2="326" y2="65.5" stroke="#cfd3d7" stroke-width="0.4"/>
<line x1="340" y1="44" x2="340" y2="65.5" stroke="#cfd3d7" stroke-width="0.4"/>
<rect x="283" y="46" width="14.3" height="1.8" fill="#3c7fd0"/>
<rect x="283" y="39.8" width="7" height="1.6" fill="#5b8fd0"/>
<rect x="283" y="31.5" width="15" height="1.2" fill="#6a8fc0"/>
<rect x="328" y="33" width="6" height="1" fill="#999"/><rect x="328" y="36" width="3" height="1" fill="#999"/>
<rect x="348.3" y="31.4" width="16" height="4.8" fill="#24843a"/>
<rect x="354" y="33" width="3" height="1.6" fill="#8fd19a"/>
<text x="334" y="71.5" font-size="6.6" font-weight="bold" fill="#2a9c95" textLength="14.4" lengthAdjust="spacingAndGlyphs">000.0</text>
<path d="M357,49 L362,44 L362,46 L358.5,49.5 Z" fill="#e2c060"/>
<rect x="281.2" y="77.5" width="84" height="9.5" fill="#272b35"/>
<rect x="305.0" y="81.5" width="2.2" height="2" fill="#c94b4b"/>
<rect x="309.0" y="81.5" width="2.2" height="2" fill="#6da0d8"/>
<rect x="313.0" y="81.5" width="2.2" height="2" fill="#d9b45a"/>
<rect x="317.0" y="81.5" width="2.2" height="2" fill="#8fd17a"/>
<rect x="321.0" y="81.5" width="2.2" height="2" fill="#c94b4b"/>
<rect x="325.0" y="81.5" width="2.2" height="2" fill="#6da0d8"/>
<rect x="329.0" y="81.5" width="2.2" height="2" fill="#d9b45a"/>
<rect x="333.0" y="81.5" width="2.2" height="2" fill="#8fd17a"/>
<rect x="337.0" y="81.5" width="2.2" height="2" fill="#c94b4b"/>
<rect x="341.0" y="81.5" width="2.2" height="2" fill="#6da0d8"/>
<rect x="345.0" y="81.5" width="2.2" height="2" fill="#d9b45a"/>
<rect x="349.0" y="81.5" width="2.2" height="2" fill="#8fd17a"/>
<rect x="353.0" y="81.5" width="2.2" height="2" fill="#c94b4b"/>
<rect x="357.0" y="81.5" width="2.2" height="2" fill="#6da0d8"/>
<path d="M334.5,88 L337.6,90.7 L340.7,88" stroke="#777" stroke-width="0.8" fill="none"/>
<path d="M281,86.5 C268,84.5 254,85 253.5,90 C253,95 266,97.5 281,96 M281,89 C270,88 258,89 258,92.5 C258,96 270,97 281,93.5 M255,93 C246,100 245,108 252,113 C256,116.5 261,117.5 265,117 M258.5,96 C257,104 260,112 265,116.5" stroke="#253158" stroke-width="1.1" fill="none"/>
<rect x="264.5" y="115" width="5.5" height="3.4" fill="#222"/>
<rect x="270" y="114.4" width="8.5" height="4.2" rx="1" fill="#d9d2b8"/>
<path d="M246,120 L276.5,120 Q277.6,120 277.5,121.5 L276.5,161 L232.3,160.5 L243.8,121.5 Q244.2,120 246,120 Z" fill="#353538"/>
<polygon points="244.8,120.5 277.3,120.5 277,133 241.5,133" fill="#3e3e42"/>
<polygon points="232.3,160.5 276.5,161 275.6,166.8 232.6,165.6" fill="#1b1b1d"/>
<circle cx="259.7" cy="131" r="2.2" fill="#dcdcdc"/><circle cx="259.7" cy="131" r="1.1" fill="#444"/>
<polygon points="249,138.8 265.5,138.8 265,154.3 246.4,154.3" fill="#b3b7e8"/>
<rect x="249" y="149" width="14" height="3.5" fill="#8f93c6"/>
<polygon points="248.3,165.2 259.3,165.2 259.1,175 248.1,174.8" fill="#1f7e8a"/>
<rect x="248.5" y="172.5" width="9" height="1.3" fill="#c9b86a"/>
</g></g>
<g filter="url(#bl)">
<path d="M223.5,197.8 H254.2 V226 A4,4 0 0 0 262.4,226 V197.8 H310.8 V298.5 H228 Q223.5,298.5 223.5,294 Z" fill="#aca32b"/>
<rect x="223.5" y="197.8" width="30.7" height="27.5" fill="#8e8420"/><rect x="262.4" y="197.8" width="48.4" height="27.5" fill="#8e8420"/>
<rect x="224.1" y="197.8" width="3.4" height="27.5" fill="#dcc25e"/>
<line x1="225.3" y1="199" x2="225.3" y2="224.5" stroke="#f3e4a4" stroke-width="0.8"/>
<rect x="228.4" y="197.8" width="3.4" height="27.5" fill="#dcc25e"/>
<line x1="229.6" y1="199" x2="229.6" y2="224.5" stroke="#f3e4a4" stroke-width="0.8"/>
<rect x="232.7" y="197.8" width="3.4" height="27.5" fill="#dcc25e"/>
<line x1="233.9" y1="199" x2="233.9" y2="224.5" stroke="#f3e4a4" stroke-width="0.8"/>
<rect x="237.0" y="197.8" width="3.4" height="27.5" fill="#dcc25e"/>
<line x1="238.2" y1="199" x2="238.2" y2="224.5" stroke="#f3e4a4" stroke-width="0.8"/>
<rect x="241.3" y="197.8" width="3.4" height="27.5" fill="#dcc25e"/>
<line x1="242.5" y1="199" x2="242.5" y2="224.5" stroke="#f3e4a4" stroke-width="0.8"/>
<rect x="245.6" y="197.8" width="3.4" height="27.5" fill="#dcc25e"/>
<line x1="246.8" y1="199" x2="246.8" y2="224.5" stroke="#f3e4a4" stroke-width="0.8"/>
<rect x="249.9" y="197.8" width="3.4" height="27.5" fill="#dcc25e"/>
<line x1="251.1" y1="199" x2="251.1" y2="224.5" stroke="#f3e4a4" stroke-width="0.8"/>
<rect x="263.0" y="197.8" width="3.4" height="27.5" fill="#dcc25e"/>
<line x1="264.2" y1="199" x2="264.2" y2="224.5" stroke="#f3e4a4" stroke-width="0.8"/>
<rect x="267.3" y="197.8" width="3.4" height="27.5" fill="#dcc25e"/>
<line x1="268.5" y1="199" x2="268.5" y2="224.5" stroke="#f3e4a4" stroke-width="0.8"/>
<rect x="271.6" y="197.8" width="3.4" height="27.5" fill="#dcc25e"/>
<line x1="272.8" y1="199" x2="272.8" y2="224.5" stroke="#f3e4a4" stroke-width="0.8"/>
<rect x="275.9" y="197.8" width="3.4" height="27.5" fill="#dcc25e"/>
<line x1="277.1" y1="199" x2="277.1" y2="224.5" stroke="#f3e4a4" stroke-width="0.8"/>
<rect x="280.2" y="197.8" width="3.4" height="27.5" fill="#dcc25e"/>
<line x1="281.4" y1="199" x2="281.4" y2="224.5" stroke="#f3e4a4" stroke-width="0.8"/>
<rect x="284.5" y="197.8" width="3.4" height="27.5" fill="#dcc25e"/>
<line x1="285.7" y1="199" x2="285.7" y2="224.5" stroke="#f3e4a4" stroke-width="0.8"/>
<rect x="288.8" y="197.8" width="3.4" height="27.5" fill="#dcc25e"/>
<line x1="290.0" y1="199" x2="290.0" y2="224.5" stroke="#f3e4a4" stroke-width="0.8"/>
<rect x="293.1" y="197.8" width="3.4" height="27.5" fill="#dcc25e"/>
<line x1="294.3" y1="199" x2="294.3" y2="224.5" stroke="#f3e4a4" stroke-width="0.8"/>
<rect x="297.4" y="197.8" width="3.4" height="27.5" fill="#dcc25e"/>
<line x1="298.6" y1="199" x2="298.6" y2="224.5" stroke="#f3e4a4" stroke-width="0.8"/>
<rect x="301.7" y="197.8" width="3.4" height="27.5" fill="#dcc25e"/>
<line x1="302.9" y1="199" x2="302.9" y2="224.5" stroke="#f3e4a4" stroke-width="0.8"/>
<rect x="306.0" y="197.8" width="3.4" height="27.5" fill="#dcc25e"/>
<line x1="307.2" y1="199" x2="307.2" y2="224.5" stroke="#f3e4a4" stroke-width="0.8"/>
<polyline points="230.1,226 230.1,250.0 238.1,262.8 238.1,288" fill="none" stroke="#e2d077" stroke-width="0.75"/>
<polyline points="234.4,226 234.4,250.0 240.9,260.4 240.9,288" fill="none" stroke="#e2d077" stroke-width="0.75"/>
<polyline points="238.7,226 238.7,250.0 245.7,261.2 245.7,288" fill="none" stroke="#e2d077" stroke-width="0.75"/>
<polyline points="243.0,226 243.0,250.0 248.5,258.8 248.5,288" fill="none" stroke="#e2d077" stroke-width="0.75"/>
<polyline points="247.3,226 247.3,250.0 253.4,259.8 253.4,288" fill="none" stroke="#e2d077" stroke-width="0.75"/>
<polyline points="251.6,226 251.6,250.0 256.2,257.4 256.2,288" fill="none" stroke="#e2d077" stroke-width="0.75"/>
<polyline points="264.7,226 264.7,252.0 261.7,256.8 261.7,288" fill="none" stroke="#e2d077" stroke-width="0.75"/>
<polyline points="269.0,226 269.0,252.0 264.5,259.2 264.5,288" fill="none" stroke="#e2d077" stroke-width="0.75"/>
<polyline points="273.3,226 273.3,252.0 269.7,257.8 269.7,288" fill="none" stroke="#e2d077" stroke-width="0.75"/>
<polyline points="277.6,226 277.6,252.0 272.5,260.2 272.5,288" fill="none" stroke="#e2d077" stroke-width="0.75"/>
<polyline points="281.9,226 281.9,252.0 277.8,258.6 277.8,288" fill="none" stroke="#e2d077" stroke-width="0.75"/>
<polyline points="286.2,226 286.2,252.0 280.6,261.0 280.6,288" fill="none" stroke="#e2d077" stroke-width="0.75"/>
<polyline points="290.5,226 290.5,252.0 285.7,259.7 285.7,288" fill="none" stroke="#e2d077" stroke-width="0.75"/>
<polyline points="294.8,226 294.8,252.0 288.5,262.1 288.5,288" fill="none" stroke="#e2d077" stroke-width="0.75"/>
<polyline points="299.1,226 299.1,252.0 293.8,260.5 293.8,288" fill="none" stroke="#e2d077" stroke-width="0.75"/>
<polyline points="303.4,226 303.4,252.0 296.6,262.9 296.6,288" fill="none" stroke="#e2d077" stroke-width="0.75"/>
<path d="M238.3,286.5 V289.6 H241.1" stroke="#f5f0d8" stroke-width="1.3" fill="none"/>
<path d="M245.9,286.5 V289.6 H248.7" stroke="#f5f0d8" stroke-width="1.3" fill="none"/>
<path d="M253.6,286.5 V289.6 H256.4" stroke="#f5f0d8" stroke-width="1.3" fill="none"/>
<path d="M261.9,286.5 V289.6 H264.7" stroke="#f5f0d8" stroke-width="1.3" fill="none"/>
<path d="M269.9,286.5 V289.6 H272.7" stroke="#f5f0d8" stroke-width="1.3" fill="none"/>
<path d="M278.0,286.5 V289.6 H280.8" stroke="#f5f0d8" stroke-width="1.3" fill="none"/>
<path d="M285.9,286.5 V289.6 H288.7" stroke="#f5f0d8" stroke-width="1.3" fill="none"/>
<path d="M294.0,286.5 V289.6 H296.8" stroke="#f5f0d8" stroke-width="1.3" fill="none"/>
<line x1="226" y1="295.5" x2="310" y2="295.5" stroke="#d6cc96" stroke-width="0.8" stroke-dasharray="1.2,1"/>
</g>
<rect x="421.1" y="34.0" width="28.1" height="49.0" fill="#e9e9e9"/>
<rect x="477.6" y="34.4" width="28.8" height="48.6" fill="#e9e9e9"/>
<line x1="391.3" y1="31" x2="391.3" y2="83" stroke="#c8c8c8" stroke-width="0.7"/>
<line x1="391.3" y1="82.8" x2="536" y2="82.8" stroke="#c8c8c8" stroke-width="0.7"/>
<line x1="391.3" y1="82.8" x2="391.3" y2="85" stroke="#c8c8c8" stroke-width="0.6"/>
<line x1="421.1" y1="82.8" x2="421.1" y2="85" stroke="#c8c8c8" stroke-width="0.6"/>
<line x1="449.2" y1="82.8" x2="449.2" y2="85" stroke="#c8c8c8" stroke-width="0.6"/>
<line x1="477.6" y1="82.8" x2="477.6" y2="85" stroke="#c8c8c8" stroke-width="0.6"/>
<line x1="506.4" y1="82.8" x2="506.4" y2="85" stroke="#c8c8c8" stroke-width="0.6"/>
<line x1="535.4" y1="82.8" x2="535.4" y2="85" stroke="#c8c8c8" stroke-width="0.6"/>
<text x="388.4" y="37.4" font-size="4.2" text-anchor="end" fill="#333" stroke="#333" stroke-width="0.25">2.0</text>
<line x1="389.5" y1="35.8" x2="391.3" y2="35.8" stroke="#aaa" stroke-width="0.5"/>
<text x="388.4" y="47.6" font-size="4.2" text-anchor="end" fill="#333" stroke="#333" stroke-width="0.25">1.5</text>
<line x1="389.5" y1="46.0" x2="391.3" y2="46.0" stroke="#aaa" stroke-width="0.5"/>
<text x="388.4" y="57.8" font-size="4.2" text-anchor="end" fill="#333" stroke="#333" stroke-width="0.25">1.0</text>
<line x1="389.5" y1="56.2" x2="391.3" y2="56.2" stroke="#aaa" stroke-width="0.5"/>
<text x="388.4" y="68.0" font-size="4.2" text-anchor="end" fill="#333" stroke="#333" stroke-width="0.25">0.5</text>
<line x1="389.5" y1="66.4" x2="391.3" y2="66.4" stroke="#aaa" stroke-width="0.5"/>
<text x="388.4" y="78.2" font-size="4.2" text-anchor="end" fill="#333" stroke="#333" stroke-width="0.25">0.0</text>
<line x1="389.5" y1="76.6" x2="391.3" y2="76.6" stroke="#aaa" stroke-width="0.5"/>
<polyline points="391.3,36.2 420.5,36.2 420.5,77.3 449.2,77.3 449.2,36.2 477.6,36.2 477.6,77.3 506.4,77.3 506.4,36.2 535.4,36.2" fill="none" stroke="#6a82ee" stroke-width="1.3"/>
<line x1="535.4" y1="36.2" x2="535.4" y2="77" stroke="#b9c4f4" stroke-width="1"/>
<text x="403.8" y="42.9" font-size="5.8" text-anchor="middle" fill="#222" stroke="#222" stroke-width="0.18">ON</text>
<text x="462.7" y="42.9" font-size="5.8" text-anchor="middle" fill="#222" stroke="#222" stroke-width="0.18">ON</text>
<text x="521.0" y="42.9" font-size="5.8" text-anchor="middle" fill="#222" stroke="#222" stroke-width="0.18">ON</text>
<text x="434.2" y="47.8" font-size="5.8" text-anchor="middle" fill="#333" stroke="#333" stroke-width="0.18">OFF</text>
<text x="492.6" y="47.8" font-size="5.8" text-anchor="middle" fill="#666" stroke="#666" stroke-width="0.18">OFF</text>
<text x="404.3" y="70.2" font-size="5.4" text-anchor="middle" fill="#333" stroke="#333" stroke-width="0.18">40ms</text>
<text x="462.7" y="69.0" font-size="5.4" text-anchor="middle" fill="#333" stroke="#333" stroke-width="0.18">40ms</text>
<text x="435.2" y="69.6" font-size="5.5" text-anchor="middle" fill="#555" stroke="#555" stroke-width="0.18">100ms</text>
<line x1="392.3" y1="72.2" x2="419.5" y2="72.2" stroke="#444" stroke-width="0.5"/>
<path d="M391.3,72.2 l2,-1 v2 z M420.5,72.2 l-2,-1 v2 z" fill="#333"/>
<line x1="422.1" y1="72.2" x2="448.2" y2="72.2" stroke="#444" stroke-width="0.5"/>
<path d="M421.1,72.2 l2,-1 v2 z M449.2,72.2 l-2,-1 v2 z" fill="#333"/>
<line x1="450.2" y1="72.0" x2="476.6" y2="72.0" stroke="#444" stroke-width="0.5"/>
<path d="M449.2,72.0 l2,-1 v2 z M477.6,72.0 l-2,-1 v2 z" fill="#333"/>
<text x="463.3" y="91.6" font-size="5.5" text-anchor="middle" fill="#333" stroke="#333" stroke-width="0.18">Time</text>
<text transform="translate(378.2,75.2) rotate(-90)" font-size="6" fill="#333" stroke="#333" stroke-width="0.15">V<tspan font-size="3.4" dy="1">drain to source</tspan><tspan dy="-1"> (V)</tspan></text>
<rect x="420.3" y="99.8" width="29.1" height="49.7" fill="#e9e9e9"/>
<rect x="477.7" y="99.9" width="29.2" height="49.6" fill="#e9e9e9"/>
<line x1="391.1" y1="95" x2="391.1" y2="150" stroke="#c8c8c8" stroke-width="0.7"/>
<line x1="391.1" y1="148.5" x2="536" y2="148.5" stroke="#c8c8c8" stroke-width="0.7"/>
<line x1="391.1" y1="148.5" x2="391.1" y2="150.6" stroke="#c8c8c8" stroke-width="0.6"/>
<line x1="405.6" y1="148.5" x2="405.6" y2="150.6" stroke="#c8c8c8" stroke-width="0.6"/>
<line x1="420.0" y1="148.5" x2="420.0" y2="150.6" stroke="#c8c8c8" stroke-width="0.6"/>
<line x1="434.5" y1="148.5" x2="434.5" y2="150.6" stroke="#c8c8c8" stroke-width="0.6"/>
<line x1="448.9" y1="148.5" x2="448.9" y2="150.6" stroke="#c8c8c8" stroke-width="0.6"/>
<line x1="463.4" y1="148.5" x2="463.4" y2="150.6" stroke="#c8c8c8" stroke-width="0.6"/>
<line x1="477.8" y1="148.5" x2="477.8" y2="150.6" stroke="#c8c8c8" stroke-width="0.6"/>
<line x1="492.2" y1="148.5" x2="492.2" y2="150.6" stroke="#c8c8c8" stroke-width="0.6"/>
<line x1="506.7" y1="148.5" x2="506.7" y2="150.6" stroke="#c8c8c8" stroke-width="0.6"/>
<line x1="521.1" y1="148.5" x2="521.1" y2="150.6" stroke="#c8c8c8" stroke-width="0.6"/>
<line x1="535.6" y1="148.5" x2="535.6" y2="150.6" stroke="#c8c8c8" stroke-width="0.6"/>
<text x="388.4" y="99.1" font-size="4.2" text-anchor="end" fill="#333" stroke="#333" stroke-width="0.25">4.0</text>
<text x="388.4" y="104.7" font-size="4.2" text-anchor="end" fill="#333" stroke="#333" stroke-width="0.25">3.5</text>
<text x="388.4" y="110.3" font-size="4.2" text-anchor="end" fill="#333" stroke="#333" stroke-width="0.25">3.0</text>
<text x="388.4" y="115.9" font-size="4.2" text-anchor="end" fill="#333" stroke="#333" stroke-width="0.25">2.5</text>
<text x="388.4" y="121.5" font-size="4.2" text-anchor="end" fill="#333" stroke="#333" stroke-width="0.25">2.0</text>
<text x="388.4" y="127.1" font-size="4.2" text-anchor="end" fill="#333" stroke="#333" stroke-width="0.25">1.5</text>
<text x="388.4" y="132.7" font-size="4.2" text-anchor="end" fill="#333" stroke="#333" stroke-width="0.25">1.0</text>
<text x="388.4" y="138.3" font-size="4.2" text-anchor="end" fill="#333" stroke="#333" stroke-width="0.25">0.5</text>
<text x="388.4" y="143.9" font-size="4.2" text-anchor="end" fill="#333" stroke="#333" stroke-width="0.25">0.0</text>
<text x="388.4" y="149.5" font-size="4.2" text-anchor="end" fill="#333" stroke="#333" stroke-width="0.25">-0.5</text>
<polyline points="391.1,142.6 405.8,142.6 405.8,102.8 420.3,102.8 420.3,142.6 463.5,142.6 463.5,102.8 477.7,102.8 477.7,142.6 521.3,142.6 521.3,102.8 535.4,102.8" fill="none" stroke="#f5616b" stroke-width="1.3"/>
<line x1="535.4" y1="102.8" x2="535.4" y2="142" stroke="#f6c2c2" stroke-width="1"/>
<text x="405.2" y="101.8" font-size="5.6" text-anchor="middle" fill="#222" stroke="#222" stroke-width="0.18">ON</text>
<text x="461.9" y="101.4" font-size="5.6" text-anchor="middle" fill="#222" stroke="#222" stroke-width="0.18">ON</text>
<text x="519.9" y="101.4" font-size="5.6" text-anchor="middle" fill="#222" stroke="#222" stroke-width="0.18">ON</text>
<text x="434.5" y="112.2" font-size="5.6" text-anchor="middle" fill="#555" stroke="#555" stroke-width="0.18">OFF</text>
<text x="491.4" y="112.2" font-size="5.6" text-anchor="middle" fill="#555" stroke="#555" stroke-width="0.18">OFF</text>
<text x="398.6" y="138.2" font-size="5.2" text-anchor="middle" fill="#333" stroke="#333" stroke-width="0.18">20ms</text>
<text x="412.5" y="138.2" font-size="5.2" text-anchor="middle" fill="#333" stroke="#333" stroke-width="0.18">20ms</text>
<text x="455.9" y="138.2" font-size="5.2" text-anchor="middle" fill="#333" stroke="#333" stroke-width="0.18">20ms</text>
<text x="470.4" y="138.2" font-size="5.2" text-anchor="middle" fill="#333" stroke="#333" stroke-width="0.18">20ms</text>
<text x="434.3" y="138.2" font-size="5.1" text-anchor="middle" fill="#555" stroke="#555" stroke-width="0.18">100ms</text>
<circle cx="392.3" cy="139.3" r="0.6" fill="#555"/>
<circle cx="404.5" cy="139.3" r="0.6" fill="#555"/>
<circle cx="406.8" cy="139.3" r="0.6" fill="#555"/>
<circle cx="419.0" cy="139.3" r="0.6" fill="#555"/>
<circle cx="421.5" cy="139.3" r="0.6" fill="#555"/>
<circle cx="447.8" cy="139.3" r="0.6" fill="#555"/>
<circle cx="450.0" cy="139.3" r="0.6" fill="#555"/>
<circle cx="462.3" cy="139.3" r="0.6" fill="#555"/>
<circle cx="464.8" cy="139.3" r="0.6" fill="#555"/>
<circle cx="476.5" cy="139.3" r="0.6" fill="#555"/>
<text x="463.3" y="158.1" font-size="5.5" text-anchor="middle" fill="#333" stroke="#333" stroke-width="0.18">Time</text>
<text transform="translate(377.6,134) rotate(-90)" font-size="6" fill="#333" stroke="#333" stroke-width="0.15">V<tspan font-size="3.0" dy="1">gate</tspan><tspan dy="-1"> (V)</tspan></text>
<path d="M358.0,235.0 L358.0,237.6 M358.0,237.6 L358.0,240.2 M358.0,240.2 L358.0,237.6 M358.0,237.6 L358.0,235.0 M348.9,241.3 L346.7,242.6 M346.7,242.6 L346.7,245.2 M346.7,245.2 L344.4,243.9 M344.4,243.9 L344.4,241.3 M344.4,241.3 L346.7,240.0 M346.7,240.0 L346.7,242.6 M346.7,242.6 L346.7,240.0 M346.7,240.0 L348.9,241.3 M348.9,241.3 L351.2,242.6 M351.2,242.6 L351.2,240.0 M363.2,241.0 L361.0,242.3 M361.0,242.3 L363.2,241.0 M363.2,241.0 L361.0,239.7 M361.0,239.7 L358.7,238.4 M358.7,238.4 L358.7,235.8 M358.7,235.8 L358.7,238.4 M358.7,238.4 L361.0,239.7 M357.9,230.5 L360.2,229.2 M360.2,229.2 L362.4,227.9 M362.4,227.9 L360.2,226.6 M360.2,226.6 L357.9,225.3 M357.9,225.3 L357.9,222.7 M357.9,222.7 L357.9,225.3 M357.9,225.3 L355.7,226.6 M355.7,226.6 L357.9,227.9 M357.9,227.9 L357.9,225.3 M357.9,225.3 L357.9,227.9 M357.9,227.9 L355.7,229.2 M355.7,229.2 L355.7,226.6 M355.7,226.6 L357.9,225.3 M357.9,225.3 L360.2,224.0 M360.2,224.0 L360.2,221.4 M360.2,221.4 L362.4,222.7 M364.6,244.1 L366.9,245.4 M366.9,245.4 L369.1,246.7 M369.1,246.7 L369.1,244.1 M356.6,233.4 L358.9,234.7 M360.1,226.5 L362.4,225.2 M362.4,225.2 L362.4,222.6 M362.4,222.6 L360.1,223.9 M360.1,223.9 L362.4,225.2 M362.4,225.2 L364.6,226.5 M358.7,243.4 L356.4,242.1 M356.4,242.1 L354.2,243.4 M354.2,243.4 L356.4,244.7 M356.4,244.7 L354.2,246.0 M354.2,246.0 L354.2,248.6 M354.2,248.6 L351.9,247.3 M351.9,247.3 L351.9,244.7 M351.9,244.7 L351.9,242.1 M351.9,242.1 L354.2,243.4 M354.2,243.4 L354.2,240.8 M354.2,240.8 L356.4,239.5 M356.4,239.5 L356.4,242.1 M356.4,242.1 L354.2,240.8 M354.2,240.8 L354.2,238.2" stroke="#e0e0e0" stroke-width="0.4" fill="none"/>
<path d="M404.0,201.0 L401.7,202.3 M402.4,202.2 L404.7,203.5 M404.7,203.5 L404.7,200.9 M404.7,200.9 L406.9,202.2 M406.9,202.2 L404.7,203.5 M404.7,203.5 L406.9,202.2 M406.9,202.2 L406.9,199.6 M406.9,199.6 L409.2,198.3 M409.2,198.3 L409.2,195.7 M407.3,207.8 L405.0,209.1 M405.0,209.1 L402.8,210.4 M402.8,210.4 L400.5,211.7 M400.5,211.7 L400.5,209.1 M400.5,209.1 L398.3,210.4 M398.3,210.4 L396.0,211.7 M396.0,211.7 L393.8,210.4 M409.8,207.9 L412.1,206.6 M412.1,206.6 L409.8,207.9 M409.8,207.9 L412.1,206.6 M412.1,206.6 L412.1,209.2 M412.1,209.2 L414.3,207.9 M414.3,207.9 L416.6,206.6 M405.9,207.6 L408.1,206.3 M408.1,206.3 L405.9,205.0 M405.9,205.0 L405.9,207.6 M408.5,196.9 L408.5,194.3 M408.5,194.3 L408.5,196.9 M408.5,196.9 L410.8,198.2 M410.8,198.2 L410.8,200.8 M410.8,200.8 L410.8,198.2 M410.8,198.2 L408.5,199.5 M408.5,199.5 L410.8,198.2 M406.2,202.3 L404.0,201.0 M404.0,201.0 L401.7,202.3 M401.7,202.3 L404.0,201.0 M404.0,201.0 L401.7,199.7 M401.7,199.7 L404.0,201.0 M404.0,201.0 L404.0,203.6 M404.0,203.6 L401.7,202.3 M401.7,202.3 L401.7,199.7 M401.7,199.7 L399.5,198.4 M399.5,198.4 L401.7,197.1 M401.7,197.1 L404.0,195.8 M404.0,195.8 L406.2,194.5 M406.2,194.5 L404.0,195.8 M404.0,195.8 L404.0,198.4 M404.0,198.4 L404.0,195.8 M404.0,195.8 L406.2,197.1 M406.2,197.1 L408.5,198.4 M409.7,201.2 L409.7,203.8 M409.7,203.8 L407.4,202.5 M407.4,202.5 L409.7,203.8 M409.7,203.8 L411.9,205.1 M411.9,205.1 L409.7,206.4 M409.7,206.4 L411.9,207.7 M411.9,207.7 L409.7,206.4 M411.7,195.3 L411.7,197.9 M411.7,197.9 L411.7,195.3 M411.7,195.3 L414.0,196.6 M414.0,196.6 L414.0,199.2" stroke="#e0e0e0" stroke-width="0.4" fill="none"/>
<path d="M432.0,200.0 L432.0,202.6 M432.0,202.6 L432.0,205.2 M432.0,205.2 L434.3,206.5 M434.3,206.5 L434.3,203.9 M434.3,203.9 L436.5,205.2 M436.5,205.2 L436.5,207.8 M436.5,207.8 L436.5,205.2 M436.5,205.2 L438.8,206.5 M438.8,206.5 L441.0,207.8 M441.0,207.8 L441.0,210.4 M423.6,199.7 L425.8,201.0 M425.8,201.0 L428.1,202.3 M428.1,202.3 L425.8,201.0 M425.8,201.0 L423.6,202.3 M429.9,198.2 L427.6,199.5 M427.6,199.5 L427.6,202.1 M427.6,202.1 L425.4,200.8 M433.0,203.5 L430.8,202.2 M430.8,202.2 L430.8,199.6 M430.8,199.6 L428.5,200.9 M428.5,200.9 L430.8,199.6 M430.8,199.6 L428.5,198.3 M428.5,198.3 L430.8,199.6 M430.8,199.6 L428.5,198.3 M434.4,204.2 L432.1,205.5 M432.1,205.5 L434.4,204.2 M434.4,204.2 L436.6,205.5 M436.6,205.5 L436.6,202.9 M436.6,202.9 L436.6,200.3 M430.6,198.8 L432.8,200.1 M432.8,200.1 L430.6,201.4 M430.6,201.4 L430.6,198.8 M430.6,198.8 L428.3,200.1 M435.6,207.0 L437.8,205.7 M437.8,205.7 L437.8,203.1 M437.8,203.1 L440.1,201.8 M428.6,200.5 L428.6,197.9 M428.6,197.9 L426.4,196.6 M437.1,192.7 L439.4,194.0 M439.4,194.0 L441.6,192.7 M441.6,192.7 L441.6,195.3 M441.6,195.3 L439.4,196.6 M439.4,196.6 L441.6,197.9 M424.8,199.7 L427.1,198.4 M427.1,198.4 L427.1,195.8 M427.1,195.8 L429.3,197.1 M437.0,200.2 L439.2,198.9 M439.2,198.9 L439.2,196.3 M439.2,196.3 L439.2,193.7 M428.7,201.0 L431.0,202.3 M431.0,202.3 L431.0,204.9 M431.0,204.9 L428.7,203.6 M428.7,203.6 L426.5,202.3 M426.5,202.3 L426.5,199.7 M426.5,199.7 L424.2,201.0 M424.2,201.0 L426.5,202.3 M426.5,202.3 L426.5,204.9 M426.5,204.9 L424.2,203.6 M424.2,203.6 L424.2,206.2 M424.2,206.2 L424.2,203.6" stroke="#e0e0e0" stroke-width="0.4" fill="none"/>
<path d="M402.0,228.0 L404.3,226.7 M404.3,226.7 L406.5,225.4 M406.5,225.4 L408.8,224.1 M408.8,224.1 L408.8,226.7 M408.8,226.7 L406.5,225.4 M406.5,225.4 L408.8,224.1 M408.8,224.1 L406.5,222.8 M406.5,222.8 L406.5,225.4 M407.0,222.3 L407.0,219.7 M407.0,219.7 L407.0,222.3 M407.0,222.3 L407.0,219.7 M407.0,219.7 L404.8,221.0 M404.8,221.0 L402.5,219.7 M402.5,219.7 L402.5,217.1 M402.5,217.1 L400.3,218.4 M400.3,218.4 L398.0,219.7 M401.6,226.1 L401.6,228.7 M401.6,228.7 L401.6,231.3 M401.6,231.3 L401.6,233.9 M401.6,233.9 L403.8,232.6 M403.8,232.6 L403.8,230.0 M403.8,230.0 L403.8,227.4 M403.8,227.4 L406.1,226.1 M406.1,226.1 L403.8,224.8 M403.8,224.8 L406.1,226.1 M406.1,226.1 L403.8,224.8 M403.8,224.8 L406.1,226.1 M406.1,226.1 L406.1,228.7 M406.1,228.7 L408.3,227.4 M408.3,227.4 L410.6,226.1 M396.3,224.1 L396.3,226.7 M396.3,226.7 L396.3,229.3 M396.3,229.3 L398.6,228.0 M398.6,228.0 L400.9,229.3 M400.9,229.3 L398.6,230.6 M398.6,230.6 L400.9,231.9 M400.9,231.9 L398.6,230.6 M408.0,221.9 L405.7,223.2 M405.7,223.2 L403.5,224.5 M401.0,231.7 L398.8,233.0 M398.7,227.0 L396.4,225.7 M404.9,231.9 L402.6,230.6 M402.6,230.6 L402.6,228.0 M402.6,228.0 L400.4,229.3 M400.7,227.0 L400.7,224.4 M400.7,224.4 L402.9,225.7 M402.9,225.7 L405.2,224.4 M405.2,224.4 L402.9,225.7 M402.9,225.7 L400.7,227.0 M400.7,227.0 L402.9,225.7 M402.9,225.7 L400.7,227.0 M410.9,225.4 L410.9,222.8 M410.9,222.8 L413.1,224.1 M413.1,224.1 L413.1,221.5 M413.1,221.5 L415.4,220.2 M415.4,220.2 L413.1,221.5 M413.1,221.5 L413.1,224.1 M413.1,224.1 L415.4,222.8 M415.4,222.8 L415.4,225.4 M415.4,225.4 L413.1,226.7" stroke="#e0e0e0" stroke-width="0.4" fill="none"/>
<path d="M429.0,226.0 L431.3,227.3 M431.3,227.3 L431.3,229.9 M431.3,229.9 L433.5,228.6 M433.5,228.6 L433.5,226.0 M433.5,226.0 L431.3,227.3 M431.3,227.3 L429.0,226.0 M429.0,226.0 L429.0,228.6 M429.0,228.6 L431.3,229.9 M431.3,229.9 L431.3,227.3 M431.3,227.3 L433.5,226.0 M433.5,226.0 L431.3,224.7 M431.3,224.7 L429.0,223.4 M426.1,225.7 L423.8,227.0 M423.8,227.0 L423.8,224.4 M423.8,224.4 L426.1,223.1 M426.1,223.1 L423.8,221.8 M423.8,221.8 L426.1,223.1 M426.1,223.1 L428.3,224.4 M428.3,224.4 L428.3,221.8 M425.9,229.3 L428.2,228.0 M430.6,226.8 L432.8,225.5 M432.8,225.5 L430.6,226.8 M429.9,230.3 L429.9,232.9 M429.9,232.9 L429.9,230.3 M429.9,230.3 L429.9,232.9 M429.9,232.9 L427.6,234.2 M427.6,234.2 L425.4,232.9 M425.4,232.9 L423.1,231.6 M423.1,231.6 L425.4,232.9 M425.4,232.9 L425.4,230.3 M425.4,230.3 L423.1,229.0 M423.1,229.0 L425.4,227.7 M425.4,227.7 L427.6,226.4 M427.6,226.4 L427.6,223.8 M427.6,223.8 L429.9,222.5 M431.2,227.9 L428.9,226.6 M428.9,226.6 L431.2,225.3 M431.2,225.3 L431.2,227.9 M431.2,227.9 L431.2,230.5 M429.0,227.8 L426.8,226.5 M427.3,227.9 L427.3,230.5 M431.3,227.5 L433.6,228.8 M429.9,226.1 L427.7,224.8 M427.7,224.8 L425.4,226.1 M425.4,226.1 L423.2,227.4 M423.2,227.4 L423.2,230.0 M431.7,229.3 L434.0,230.6 M434.0,230.6 L431.7,231.9 M431.7,231.9 L431.7,234.5 M431.7,234.5 L431.7,231.9 M431.7,231.9 L431.7,234.5 M431.7,234.5 L429.5,233.2 M429.5,233.2 L427.2,231.9 M426.6,221.9 L424.4,220.6 M424.4,220.6 L426.6,221.9 M426.6,221.9 L424.4,220.6 M424.4,220.6 L426.6,221.9 M426.6,221.9 L424.4,220.6 M424.4,220.6 L426.6,219.3 M426.6,219.3 L426.6,221.9" stroke="#e0e0e0" stroke-width="0.4" fill="none"/>
<text x="359.8" y="212.8" font-size="9" font-weight="bold" fill="#333" textLength="11.8" lengthAdjust="spacingAndGlyphs">TnI</text>
<linearGradient id="lf1" gradientUnits="userSpaceOnUse" x1="434.5" y1="0" x2="467.4" y2="0"><stop offset="0" stop-color="#c4c4c4"/><stop offset="0.55" stop-color="#b8b8b8"/><stop offset="0.84" stop-color="#a9a9a9"/><stop offset="0.93" stop-color="#dedede"/><stop offset="1" stop-color="#cecece"/></linearGradient>
<linearGradient id="rf1" gradientUnits="userSpaceOnUse" x1="461.0" y1="0" x2="504.6" y2="0"><stop offset="0" stop-color="#cdcdcd"/><stop offset="0.35" stop-color="#c3c3c3"/><stop offset="0.9" stop-color="#b2b2b2"/><stop offset="1" stop-color="#c8c8c8"/></linearGradient>
<path d="M438.5,265.0 L463.0,293.0 L503.9,277.0 Z" fill="#d9d9d9" filter="url(#bl2)"/>
<path d="M439.4,224.4 L434.5,257.0 Q434.5,262.0 438.5,265.5 L458.0,290.2 Q461.0,291.5 461.5,291.0 L467.4,255.6 Z" fill="url(#lf1)"/>
<path d="M467.4,255.6 L504.6,234.0 L500.9,271.0 Q500.9,275.0 496.9,277.5 L461.5,291.0 Z" fill="url(#rf1)"/>
<path d="M434.5,257.0 Q434.5,262.0 438.5,265.5 L458.0,290.2 Q461.0,291.5 461.5,291.0 L496.9,277.5 Q500.9,275.0 500.9,271.0" fill="none" stroke="#6e5646" stroke-width="0.9"/>
<polyline points="439.4,225.6 467.4,256.9 504.6,235.2" fill="none" stroke="#8f8f8f" stroke-width="2.2" stroke-linejoin="round" stroke-linecap="round"/>
<polygon points="439.4,224.4 477.5,206.0 504.6,234.0 467.4,255.6" fill="#d99500" stroke="#d99500" stroke-width="2.4" stroke-linejoin="round"/>
<polygon points="443.4,225.2 476.8,208.8 500.7,233.6 468.0,252.4" fill="#f4bd10" stroke="#f4bd10" stroke-width="1.5" stroke-linejoin="round"/>
<polyline points="443.9,225.8 468.0,252.4 500.0,234.0" fill="none" stroke="#ffe066" stroke-width="1.2" stroke-linejoin="round"/>
<polygon points="448.6,226.1 476.0,212.6 495.6,233.0 468.7,248.3" fill="#f0b60e"/>
<line x1="449.8" y1="223.8" x2="449.8" y2="210.4" stroke="#9cb0cc" stroke-width="1.2"/>
<line x1="449.6" y1="222.8" x2="449.6" y2="211.4" stroke="#eef3fa" stroke-width="0.5" stroke-dasharray="0.8,1"/>
<circle cx="449.8" cy="210.4" r="0.8" fill="#6f7f99"/>
<line x1="455.9" y1="220.8" x2="455.9" y2="207.4" stroke="#9cb0cc" stroke-width="1.2"/>
<line x1="455.7" y1="219.8" x2="455.7" y2="208.4" stroke="#eef3fa" stroke-width="0.5" stroke-dasharray="0.8,1"/>
<circle cx="455.9" cy="207.4" r="0.8" fill="#6f7f99"/>
<line x1="462.0" y1="217.8" x2="462.0" y2="204.4" stroke="#9cb0cc" stroke-width="1.2"/>
<line x1="461.8" y1="216.8" x2="461.8" y2="205.4" stroke="#eef3fa" stroke-width="0.5" stroke-dasharray="0.8,1"/>
<circle cx="462.0" cy="204.4" r="0.8" fill="#6f7f99"/>
<line x1="468.0" y1="214.8" x2="468.0" y2="201.4" stroke="#9cb0cc" stroke-width="1.2"/>
<line x1="467.8" y1="213.8" x2="467.8" y2="202.4" stroke="#eef3fa" stroke-width="0.5" stroke-dasharray="0.8,1"/>
<circle cx="468.0" cy="201.4" r="0.8" fill="#6f7f99"/>
<line x1="474.1" y1="211.8" x2="474.1" y2="198.4" stroke="#9cb0cc" stroke-width="1.2"/>
<line x1="473.9" y1="210.8" x2="473.9" y2="199.4" stroke="#eef3fa" stroke-width="0.5" stroke-dasharray="0.8,1"/>
<circle cx="474.1" cy="198.4" r="0.8" fill="#6f7f99"/>
<line x1="453.4" y1="228.6" x2="453.4" y2="215.2" stroke="#9cb0cc" stroke-width="1.2"/>
<line x1="453.2" y1="227.6" x2="453.2" y2="216.2" stroke="#eef3fa" stroke-width="0.5" stroke-dasharray="0.8,1"/>
<circle cx="453.4" cy="215.2" r="0.8" fill="#6f7f99"/>
<line x1="459.5" y1="225.6" x2="459.5" y2="212.2" stroke="#9cb0cc" stroke-width="1.2"/>
<line x1="459.3" y1="224.6" x2="459.3" y2="213.2" stroke="#eef3fa" stroke-width="0.5" stroke-dasharray="0.8,1"/>
<circle cx="459.5" cy="212.2" r="0.8" fill="#6f7f99"/>
<line x1="465.5" y1="222.5" x2="465.5" y2="209.1" stroke="#9cb0cc" stroke-width="1.2"/>
<line x1="465.3" y1="221.5" x2="465.3" y2="210.1" stroke="#eef3fa" stroke-width="0.5" stroke-dasharray="0.8,1"/>
<circle cx="465.5" cy="209.1" r="0.8" fill="#6f7f99"/>
<line x1="471.6" y1="219.4" x2="471.6" y2="206.0" stroke="#9cb0cc" stroke-width="1.2"/>
<line x1="471.4" y1="218.4" x2="471.4" y2="207.0" stroke="#eef3fa" stroke-width="0.5" stroke-dasharray="0.8,1"/>
<circle cx="471.6" cy="206.0" r="0.8" fill="#6f7f99"/>
<line x1="477.6" y1="216.4" x2="477.6" y2="203.0" stroke="#9cb0cc" stroke-width="1.2"/>
<line x1="477.4" y1="215.4" x2="477.4" y2="204.0" stroke="#eef3fa" stroke-width="0.5" stroke-dasharray="0.8,1"/>
<circle cx="477.6" cy="203.0" r="0.8" fill="#6f7f99"/>
<line x1="457.0" y1="233.5" x2="457.0" y2="220.1" stroke="#9cb0cc" stroke-width="1.2"/>
<line x1="456.8" y1="232.5" x2="456.8" y2="221.1" stroke="#eef3fa" stroke-width="0.5" stroke-dasharray="0.8,1"/>
<circle cx="457.0" cy="220.1" r="0.8" fill="#6f7f99"/>
<line x1="463.1" y1="230.4" x2="463.1" y2="217.0" stroke="#9cb0cc" stroke-width="1.2"/>
<line x1="462.9" y1="229.4" x2="462.9" y2="218.0" stroke="#eef3fa" stroke-width="0.5" stroke-dasharray="0.8,1"/>
<circle cx="463.1" cy="217.0" r="0.8" fill="#6f7f99"/>
<line x1="469.1" y1="227.2" x2="469.1" y2="213.8" stroke="#9cb0cc" stroke-width="1.2"/>
<line x1="468.9" y1="226.2" x2="468.9" y2="214.8" stroke="#eef3fa" stroke-width="0.5" stroke-dasharray="0.8,1"/>
<circle cx="469.1" cy="213.8" r="0.8" fill="#6f7f99"/>
<line x1="475.1" y1="224.1" x2="475.1" y2="210.7" stroke="#9cb0cc" stroke-width="1.2"/>
<line x1="474.9" y1="223.1" x2="474.9" y2="211.7" stroke="#eef3fa" stroke-width="0.5" stroke-dasharray="0.8,1"/>
<circle cx="475.1" cy="210.7" r="0.8" fill="#6f7f99"/>
<line x1="481.2" y1="220.9" x2="481.2" y2="207.5" stroke="#9cb0cc" stroke-width="1.2"/>
<line x1="481.0" y1="219.9" x2="481.0" y2="208.5" stroke="#eef3fa" stroke-width="0.5" stroke-dasharray="0.8,1"/>
<circle cx="481.2" cy="207.5" r="0.8" fill="#6f7f99"/>
<line x1="460.6" y1="238.4" x2="460.6" y2="225.0" stroke="#9cb0cc" stroke-width="1.2"/>
<line x1="460.4" y1="237.4" x2="460.4" y2="226.0" stroke="#eef3fa" stroke-width="0.5" stroke-dasharray="0.8,1"/>
<circle cx="460.6" cy="225.0" r="0.8" fill="#6f7f99"/>
<line x1="466.6" y1="235.2" x2="466.6" y2="221.8" stroke="#9cb0cc" stroke-width="1.2"/>
<line x1="466.4" y1="234.2" x2="466.4" y2="222.8" stroke="#eef3fa" stroke-width="0.5" stroke-dasharray="0.8,1"/>
<circle cx="466.6" cy="221.8" r="0.8" fill="#6f7f99"/>
<line x1="472.7" y1="232.0" x2="472.7" y2="218.6" stroke="#9cb0cc" stroke-width="1.2"/>
<line x1="472.5" y1="231.0" x2="472.5" y2="219.6" stroke="#eef3fa" stroke-width="0.5" stroke-dasharray="0.8,1"/>
<circle cx="472.7" cy="218.6" r="0.8" fill="#6f7f99"/>
<line x1="478.7" y1="228.8" x2="478.7" y2="215.4" stroke="#9cb0cc" stroke-width="1.2"/>
<line x1="478.5" y1="227.8" x2="478.5" y2="216.4" stroke="#eef3fa" stroke-width="0.5" stroke-dasharray="0.8,1"/>
<circle cx="478.7" cy="215.4" r="0.8" fill="#6f7f99"/>
<line x1="484.7" y1="225.5" x2="484.7" y2="212.1" stroke="#9cb0cc" stroke-width="1.2"/>
<line x1="484.5" y1="224.5" x2="484.5" y2="213.1" stroke="#eef3fa" stroke-width="0.5" stroke-dasharray="0.8,1"/>
<circle cx="484.7" cy="212.1" r="0.8" fill="#6f7f99"/>
<line x1="464.2" y1="243.4" x2="464.2" y2="230.0" stroke="#9cb0cc" stroke-width="1.2"/>
<line x1="464.0" y1="242.4" x2="464.0" y2="231.0" stroke="#eef3fa" stroke-width="0.5" stroke-dasharray="0.8,1"/>
<circle cx="464.2" cy="230.0" r="0.8" fill="#6f7f99"/>
<line x1="470.2" y1="240.0" x2="470.2" y2="226.6" stroke="#9cb0cc" stroke-width="1.2"/>
<line x1="470.0" y1="239.0" x2="470.0" y2="227.6" stroke="#eef3fa" stroke-width="0.5" stroke-dasharray="0.8,1"/>
<circle cx="470.2" cy="226.6" r="0.8" fill="#6f7f99"/>
<line x1="476.2" y1="236.7" x2="476.2" y2="223.3" stroke="#9cb0cc" stroke-width="1.2"/>
<line x1="476.0" y1="235.7" x2="476.0" y2="224.3" stroke="#eef3fa" stroke-width="0.5" stroke-dasharray="0.8,1"/>
<circle cx="476.2" cy="223.3" r="0.8" fill="#6f7f99"/>
<line x1="482.2" y1="233.4" x2="482.2" y2="220.0" stroke="#9cb0cc" stroke-width="1.2"/>
<line x1="482.0" y1="232.4" x2="482.0" y2="221.0" stroke="#eef3fa" stroke-width="0.5" stroke-dasharray="0.8,1"/>
<circle cx="482.2" cy="220.0" r="0.8" fill="#6f7f99"/>
<line x1="488.2" y1="230.1" x2="488.2" y2="216.7" stroke="#9cb0cc" stroke-width="1.2"/>
<line x1="488.0" y1="229.1" x2="488.0" y2="217.7" stroke="#eef3fa" stroke-width="0.5" stroke-dasharray="0.8,1"/>
<circle cx="488.2" cy="216.7" r="0.8" fill="#6f7f99"/>
<line x1="467.9" y1="248.3" x2="467.9" y2="234.9" stroke="#9cb0cc" stroke-width="1.2"/>
<line x1="467.7" y1="247.3" x2="467.7" y2="235.9" stroke="#eef3fa" stroke-width="0.5" stroke-dasharray="0.8,1"/>
<circle cx="467.9" cy="234.9" r="0.8" fill="#6f7f99"/>
<line x1="473.8" y1="244.9" x2="473.8" y2="231.5" stroke="#9cb0cc" stroke-width="1.2"/>
<line x1="473.6" y1="243.9" x2="473.6" y2="232.5" stroke="#eef3fa" stroke-width="0.5" stroke-dasharray="0.8,1"/>
<circle cx="473.8" cy="231.5" r="0.8" fill="#6f7f99"/>
<line x1="479.8" y1="241.5" x2="479.8" y2="228.1" stroke="#9cb0cc" stroke-width="1.2"/>
<line x1="479.6" y1="240.5" x2="479.6" y2="229.1" stroke="#eef3fa" stroke-width="0.5" stroke-dasharray="0.8,1"/>
<circle cx="479.8" cy="228.1" r="0.8" fill="#6f7f99"/>
<line x1="485.8" y1="238.1" x2="485.8" y2="224.7" stroke="#9cb0cc" stroke-width="1.2"/>
<line x1="485.6" y1="237.1" x2="485.6" y2="225.7" stroke="#eef3fa" stroke-width="0.5" stroke-dasharray="0.8,1"/>
<circle cx="485.8" cy="224.7" r="0.8" fill="#6f7f99"/>
<line x1="491.8" y1="234.8" x2="491.8" y2="221.4" stroke="#9cb0cc" stroke-width="1.2"/>
<line x1="491.6" y1="233.8" x2="491.6" y2="222.4" stroke="#eef3fa" stroke-width="0.5" stroke-dasharray="0.8,1"/>
<circle cx="491.8" cy="221.4" r="0.8" fill="#6f7f99"/>
<linearGradient id="lf2" gradientUnits="userSpaceOnUse" x1="376.3" y1="0" x2="412.2" y2="0"><stop offset="0" stop-color="#c4c4c4"/><stop offset="0.55" stop-color="#b8b8b8"/><stop offset="0.84" stop-color="#a9a9a9"/><stop offset="0.93" stop-color="#dedede"/><stop offset="1" stop-color="#cecece"/></linearGradient>
<linearGradient id="rf2" gradientUnits="userSpaceOnUse" x1="408.3" y1="0" x2="453.4" y2="0"><stop offset="0" stop-color="#cdcdcd"/><stop offset="0.35" stop-color="#c3c3c3"/><stop offset="0.9" stop-color="#b2b2b2"/><stop offset="1" stop-color="#c8c8c8"/></linearGradient>
<path d="M380.3,305.0 L410.3,336.0 L452.0,312.5 Z" fill="#d9d9d9" filter="url(#bl2)"/>
<path d="M381.4,264.2 L376.3,297.0 Q376.3,302.0 380.3,305.5 L405.3,333.2 Q408.3,334.5 408.8,334.0 L412.2,296.8 Z" fill="url(#lf2)"/>
<path d="M412.2,296.8 L453.4,274.6 L449.0,306.5 Q449.0,310.5 445.0,313.0 L408.8,334.0 Z" fill="url(#rf2)"/>
<path d="M376.3,297.0 Q376.3,302.0 380.3,305.5 L405.3,333.2 Q408.3,334.5 408.8,334.0 L445.0,313.0 Q449.0,310.5 449.0,306.5" fill="none" stroke="#6e5646" stroke-width="0.9"/>
<polyline points="381.4,265.4 412.2,298.1 453.4,275.8" fill="none" stroke="#8f8f8f" stroke-width="2.2" stroke-linejoin="round" stroke-linecap="round"/>
<polygon points="381.4,264.2 422.5,241.5 453.4,274.6 412.2,296.8" fill="#d99500" stroke="#d99500" stroke-width="2.4" stroke-linejoin="round"/>
<polygon points="385.7,264.8 421.9,244.8 449.1,273.9 412.8,293.5" fill="#f4bd10" stroke="#f4bd10" stroke-width="1.5" stroke-linejoin="round"/>
<polyline points="386.3,265.4 412.8,293.5 448.3,274.4" fill="none" stroke="#ffe066" stroke-width="1.2" stroke-linejoin="round"/>
<polygon points="391.5,265.6 421.1,249.3 443.3,273.1 413.7,289.1" fill="#f0b60e"/>
<line x1="392.7" y1="262.9" x2="392.7" y2="249.5" stroke="#9cb0cc" stroke-width="1.2"/>
<line x1="392.5" y1="261.9" x2="392.5" y2="250.5" stroke="#eef3fa" stroke-width="0.5" stroke-dasharray="0.8,1"/>
<circle cx="392.7" cy="249.5" r="0.8" fill="#6f7f99"/>
<line x1="399.3" y1="259.3" x2="399.3" y2="245.9" stroke="#9cb0cc" stroke-width="1.2"/>
<line x1="399.1" y1="258.3" x2="399.1" y2="246.9" stroke="#eef3fa" stroke-width="0.5" stroke-dasharray="0.8,1"/>
<circle cx="399.3" cy="245.9" r="0.8" fill="#6f7f99"/>
<line x1="405.9" y1="255.7" x2="405.9" y2="242.3" stroke="#9cb0cc" stroke-width="1.2"/>
<line x1="405.7" y1="254.7" x2="405.7" y2="243.3" stroke="#eef3fa" stroke-width="0.5" stroke-dasharray="0.8,1"/>
<circle cx="405.9" cy="242.3" r="0.8" fill="#6f7f99"/>
<line x1="412.4" y1="252.1" x2="412.4" y2="238.7" stroke="#9cb0cc" stroke-width="1.2"/>
<line x1="412.2" y1="251.1" x2="412.2" y2="239.7" stroke="#eef3fa" stroke-width="0.5" stroke-dasharray="0.8,1"/>
<circle cx="412.4" cy="238.7" r="0.8" fill="#6f7f99"/>
<line x1="419.0" y1="248.4" x2="419.0" y2="235.0" stroke="#9cb0cc" stroke-width="1.2"/>
<line x1="418.8" y1="247.4" x2="418.8" y2="236.0" stroke="#eef3fa" stroke-width="0.5" stroke-dasharray="0.8,1"/>
<circle cx="419.0" cy="235.0" r="0.8" fill="#6f7f99"/>
<line x1="396.7" y1="268.2" x2="396.7" y2="254.8" stroke="#9cb0cc" stroke-width="1.2"/>
<line x1="396.5" y1="267.2" x2="396.5" y2="255.8" stroke="#eef3fa" stroke-width="0.5" stroke-dasharray="0.8,1"/>
<circle cx="396.7" cy="254.8" r="0.8" fill="#6f7f99"/>
<line x1="403.3" y1="264.6" x2="403.3" y2="251.2" stroke="#9cb0cc" stroke-width="1.2"/>
<line x1="403.1" y1="263.6" x2="403.1" y2="252.2" stroke="#eef3fa" stroke-width="0.5" stroke-dasharray="0.8,1"/>
<circle cx="403.3" cy="251.2" r="0.8" fill="#6f7f99"/>
<line x1="409.9" y1="260.9" x2="409.9" y2="247.5" stroke="#9cb0cc" stroke-width="1.2"/>
<line x1="409.7" y1="259.9" x2="409.7" y2="248.5" stroke="#eef3fa" stroke-width="0.5" stroke-dasharray="0.8,1"/>
<circle cx="409.9" cy="247.5" r="0.8" fill="#6f7f99"/>
<line x1="416.4" y1="257.3" x2="416.4" y2="243.9" stroke="#9cb0cc" stroke-width="1.2"/>
<line x1="416.2" y1="256.3" x2="416.2" y2="244.9" stroke="#eef3fa" stroke-width="0.5" stroke-dasharray="0.8,1"/>
<circle cx="416.4" cy="243.9" r="0.8" fill="#6f7f99"/>
<line x1="423.0" y1="253.7" x2="423.0" y2="240.3" stroke="#9cb0cc" stroke-width="1.2"/>
<line x1="422.8" y1="252.7" x2="422.8" y2="241.3" stroke="#eef3fa" stroke-width="0.5" stroke-dasharray="0.8,1"/>
<circle cx="423.0" cy="240.3" r="0.8" fill="#6f7f99"/>
<line x1="400.7" y1="273.4" x2="400.7" y2="260.0" stroke="#9cb0cc" stroke-width="1.2"/>
<line x1="400.5" y1="272.4" x2="400.5" y2="261.0" stroke="#eef3fa" stroke-width="0.5" stroke-dasharray="0.8,1"/>
<circle cx="400.7" cy="260.0" r="0.8" fill="#6f7f99"/>
<line x1="407.3" y1="269.8" x2="407.3" y2="256.4" stroke="#9cb0cc" stroke-width="1.2"/>
<line x1="407.1" y1="268.8" x2="407.1" y2="257.4" stroke="#eef3fa" stroke-width="0.5" stroke-dasharray="0.8,1"/>
<circle cx="407.3" cy="256.4" r="0.8" fill="#6f7f99"/>
<line x1="413.9" y1="266.2" x2="413.9" y2="252.8" stroke="#9cb0cc" stroke-width="1.2"/>
<line x1="413.7" y1="265.2" x2="413.7" y2="253.8" stroke="#eef3fa" stroke-width="0.5" stroke-dasharray="0.8,1"/>
<circle cx="413.9" cy="252.8" r="0.8" fill="#6f7f99"/>
<line x1="420.5" y1="262.6" x2="420.5" y2="249.2" stroke="#9cb0cc" stroke-width="1.2"/>
<line x1="420.3" y1="261.6" x2="420.3" y2="250.2" stroke="#eef3fa" stroke-width="0.5" stroke-dasharray="0.8,1"/>
<circle cx="420.5" cy="249.2" r="0.8" fill="#6f7f99"/>
<line x1="427.0" y1="259.0" x2="427.0" y2="245.6" stroke="#9cb0cc" stroke-width="1.2"/>
<line x1="426.8" y1="258.0" x2="426.8" y2="246.6" stroke="#eef3fa" stroke-width="0.5" stroke-dasharray="0.8,1"/>
<circle cx="427.0" cy="245.6" r="0.8" fill="#6f7f99"/>
<line x1="404.7" y1="278.7" x2="404.7" y2="265.3" stroke="#9cb0cc" stroke-width="1.2"/>
<line x1="404.5" y1="277.7" x2="404.5" y2="266.3" stroke="#eef3fa" stroke-width="0.5" stroke-dasharray="0.8,1"/>
<circle cx="404.7" cy="265.3" r="0.8" fill="#6f7f99"/>
<line x1="411.3" y1="275.1" x2="411.3" y2="261.7" stroke="#9cb0cc" stroke-width="1.2"/>
<line x1="411.1" y1="274.1" x2="411.1" y2="262.7" stroke="#eef3fa" stroke-width="0.5" stroke-dasharray="0.8,1"/>
<circle cx="411.3" cy="261.7" r="0.8" fill="#6f7f99"/>
<line x1="417.9" y1="271.5" x2="417.9" y2="258.1" stroke="#9cb0cc" stroke-width="1.2"/>
<line x1="417.7" y1="270.5" x2="417.7" y2="259.1" stroke="#eef3fa" stroke-width="0.5" stroke-dasharray="0.8,1"/>
<circle cx="417.9" cy="258.1" r="0.8" fill="#6f7f99"/>
<line x1="424.5" y1="267.9" x2="424.5" y2="254.5" stroke="#9cb0cc" stroke-width="1.2"/>
<line x1="424.3" y1="266.9" x2="424.3" y2="255.5" stroke="#eef3fa" stroke-width="0.5" stroke-dasharray="0.8,1"/>
<circle cx="424.5" cy="254.5" r="0.8" fill="#6f7f99"/>
<line x1="431.1" y1="264.3" x2="431.1" y2="250.9" stroke="#9cb0cc" stroke-width="1.2"/>
<line x1="430.9" y1="263.3" x2="430.9" y2="251.9" stroke="#eef3fa" stroke-width="0.5" stroke-dasharray="0.8,1"/>
<circle cx="431.1" cy="250.9" r="0.8" fill="#6f7f99"/>
<line x1="408.7" y1="283.9" x2="408.7" y2="270.5" stroke="#9cb0cc" stroke-width="1.2"/>
<line x1="408.5" y1="282.9" x2="408.5" y2="271.5" stroke="#eef3fa" stroke-width="0.5" stroke-dasharray="0.8,1"/>
<circle cx="408.7" cy="270.5" r="0.8" fill="#6f7f99"/>
<line x1="415.3" y1="280.3" x2="415.3" y2="266.9" stroke="#9cb0cc" stroke-width="1.2"/>
<line x1="415.1" y1="279.3" x2="415.1" y2="267.9" stroke="#eef3fa" stroke-width="0.5" stroke-dasharray="0.8,1"/>
<circle cx="415.3" cy="266.9" r="0.8" fill="#6f7f99"/>
<line x1="421.9" y1="276.7" x2="421.9" y2="263.3" stroke="#9cb0cc" stroke-width="1.2"/>
<line x1="421.7" y1="275.7" x2="421.7" y2="264.3" stroke="#eef3fa" stroke-width="0.5" stroke-dasharray="0.8,1"/>
<circle cx="421.9" cy="263.3" r="0.8" fill="#6f7f99"/>
<line x1="428.5" y1="273.2" x2="428.5" y2="259.8" stroke="#9cb0cc" stroke-width="1.2"/>
<line x1="428.3" y1="272.2" x2="428.3" y2="260.8" stroke="#eef3fa" stroke-width="0.5" stroke-dasharray="0.8,1"/>
<circle cx="428.5" cy="259.8" r="0.8" fill="#6f7f99"/>
<line x1="435.1" y1="269.6" x2="435.1" y2="256.2" stroke="#9cb0cc" stroke-width="1.2"/>
<line x1="434.9" y1="268.6" x2="434.9" y2="257.2" stroke="#eef3fa" stroke-width="0.5" stroke-dasharray="0.8,1"/>
<circle cx="435.1" cy="256.2" r="0.8" fill="#6f7f99"/>
<line x1="412.7" y1="289.1" x2="412.7" y2="275.7" stroke="#9cb0cc" stroke-width="1.2"/>
<line x1="412.5" y1="288.1" x2="412.5" y2="276.7" stroke="#eef3fa" stroke-width="0.5" stroke-dasharray="0.8,1"/>
<circle cx="412.7" cy="275.7" r="0.8" fill="#6f7f99"/>
<line x1="419.3" y1="285.6" x2="419.3" y2="272.2" stroke="#9cb0cc" stroke-width="1.2"/>
<line x1="419.1" y1="284.6" x2="419.1" y2="273.2" stroke="#eef3fa" stroke-width="0.5" stroke-dasharray="0.8,1"/>
<circle cx="419.3" cy="272.2" r="0.8" fill="#6f7f99"/>
<line x1="425.9" y1="282.0" x2="425.9" y2="268.6" stroke="#9cb0cc" stroke-width="1.2"/>
<line x1="425.7" y1="281.0" x2="425.7" y2="269.6" stroke="#eef3fa" stroke-width="0.5" stroke-dasharray="0.8,1"/>
<circle cx="425.9" cy="268.6" r="0.8" fill="#6f7f99"/>
<line x1="432.5" y1="278.4" x2="432.5" y2="265.0" stroke="#9cb0cc" stroke-width="1.2"/>
<line x1="432.3" y1="277.4" x2="432.3" y2="266.0" stroke="#eef3fa" stroke-width="0.5" stroke-dasharray="0.8,1"/>
<circle cx="432.5" cy="265.0" r="0.8" fill="#6f7f99"/>
<line x1="439.1" y1="274.9" x2="439.1" y2="261.5" stroke="#9cb0cc" stroke-width="1.2"/>
<line x1="438.9" y1="273.9" x2="438.9" y2="262.5" stroke="#eef3fa" stroke-width="0.5" stroke-dasharray="0.8,1"/>
<circle cx="439.1" cy="261.5" r="0.8" fill="#6f7f99"/>
<polyline points="354.7,294.1 367.6,294.1 367.6,280.6 403,280.6" fill="none" stroke="#333" stroke-width="0.9"/>
<circle cx="354.7" cy="294.1" r="1" fill="#111"/>
<text x="339.2" y="296.2" font-size="6.2" fill="#222" stroke="#222" stroke-width="0.25">V<tspan font-size="4" dy="1.3">g</tspan><tspan dy="-1.3"> in</tspan></text>
<g stroke="#2a2a2a" stroke-width="1.1" fill="none">
<polyline points="500.1,185.3 506,191.4 500.5,196.2"/>
<polyline points="500.5,196.2 512.6,207.2 517.2,203.2 523.7,208.9"/>
<line x1="496.6" y1="198.8" x2="509.4" y2="210.6"/>
<line x1="503.4" y1="205.6" x2="488.6" y2="214"/>
</g>
<circle cx="502.5" cy="187.9" r="0.9" fill="#111"/><circle cx="523.7" cy="208.9" r="0.9" fill="#111"/>
<text x="495.5" y="183.2" font-size="5.6" fill="#222" stroke="#222" stroke-width="0.3">V<tspan font-size="3.8" dy="1.6">s</tspan></text>
<text x="506.6" y="193.3" font-size="5.3" fill="#222" stroke="#222" stroke-width="0.3">D</text>
<text x="494.0" y="207.5" font-size="5.3" fill="#222" stroke="#222" stroke-width="0.3">G</text>
<text x="516.8" y="202.3" font-size="5.3" fill="#222" stroke="#222" stroke-width="0.3">S</text>
<text x="521.6" y="216.3" font-size="5.3" fill="#222" stroke="#222" stroke-width="0.35" textLength="12.3" lengthAdjust="spacingAndGlyphs">GND</text>
<path d="M37.5,18.9 H174 A33,33 0 0 1 207.2,51.9 V71 L241.6,111.8 L207.2,147.4 V300 A32,32 0 0 1 175.2,332 H37.5 A32,32 0 0 1 5.5,300 V50.9 A32,32 0 0 1 37.5,18.9 Z" fill="none" stroke="#f96d16" stroke-width="2"/>
<path d="M235.5,187.7 L238.5,187.7 L254.1,175.8 L260.5,187.7 H304.5 A14.8,14.8 0 0 1 319.3,202.5 V292.5 A12.8,12.8 0 0 1 306.5,305.3 H232.3 A12.8,12.8 0 0 1 219.5,292.5 V203.7 A16,16 0 0 1 235.5,187.7 Z" fill="none" stroke="#111" stroke-width="1.8"/>
<path d="M334.5,170.8 H521.2 A23.5,23.5 0 0 1 544.7,194.3 V313.8 A23.5,23.5 0 0 1 521.2,337.3 H337 A24.5,24.5 0 0 1 312.5,312.8 V309 L298.5,289.5 L312.5,268.5 V192.8 A22,22 0 0 1 334.5,170.8 Z" fill="none" stroke="#72b4e6" stroke-width="1.6"/>
<text x="11.2" y="16.0" font-size="12.6" fill="#111" stroke="#111" stroke-width="0.45" textLength="16.6" lengthAdjust="spacingAndGlyphs">(E)</text>
<text x="206.1" y="16.0" font-size="12.6" fill="#111" stroke="#111" stroke-width="0.45" textLength="17.8" lengthAdjust="spacingAndGlyphs">(A)</text>
<text x="363.8" y="16.0" font-size="12.6" fill="#111" stroke="#111" stroke-width="0.45" textLength="18.5" lengthAdjust="spacingAndGlyphs">(D)</text>
<text x="207.0" y="189.1" font-size="12.6" fill="#111" stroke="#111" stroke-width="0.45" textLength="16.2" lengthAdjust="spacingAndGlyphs">(B)</text>
<text x="363.5" y="189.3" font-size="12.6" fill="#111" stroke="#111" stroke-width="0.45" textLength="17.3" lengthAdjust="spacingAndGlyphs">(C)</text>
</svg></body></html>
